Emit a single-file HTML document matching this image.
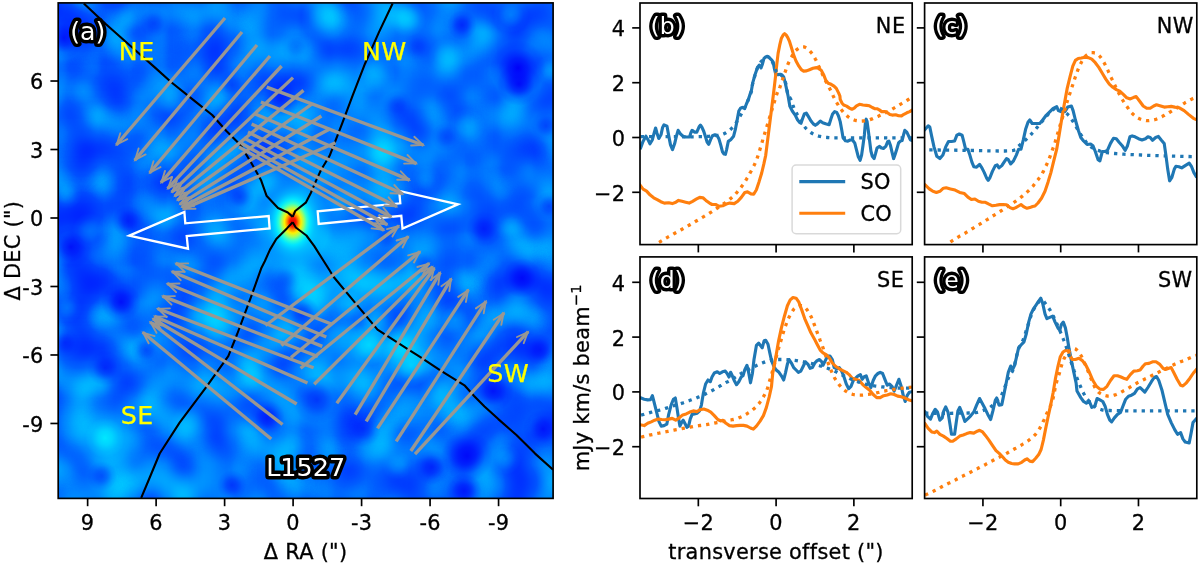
<!DOCTYPE html>
<html><head><meta charset="utf-8"><title>L1527</title>
<style>html,body{margin:0;padding:0;background:#fff}svg{display:block}</style></head>
<body><svg width="1200" height="565" viewBox="0 0 1200 565" font-family="'DejaVu Sans', 'Liberation Sans', sans-serif" font-size="20.83px" letter-spacing="0.3">
<rect width="1200" height="565" fill="#fff"/>
<defs><clipPath id="ca"><rect x="58.2" y="2.9" width="494.90000000000003" height="495.5"/></clipPath></defs>
<g clip-path="url(#ca)">
<rect x="58.2" y="2.9" width="494.90000000000003" height="495.5" fill="#004bff"/>
<defs><radialGradient id="gL"><stop offset="0" stop-color="#00ffff" stop-opacity="1"/><stop offset="0.35" stop-color="#00ffff" stop-opacity="0.72"/><stop offset="0.7" stop-color="#00ffff" stop-opacity="0.22"/><stop offset="1" stop-color="#00ffff" stop-opacity="0"/></radialGradient><radialGradient id="gD"><stop offset="0" stop-color="#0000f8" stop-opacity="1"/><stop offset="0.35" stop-color="#0000fb" stop-opacity="0.72"/><stop offset="0.7" stop-color="#0000ff" stop-opacity="0.22"/><stop offset="1" stop-color="#0000ff" stop-opacity="0"/></radialGradient><radialGradient id="gH"><stop offset="0" stop-color="#e00000"/><stop offset="0.09" stop-color="#ff1400"/><stop offset="0.16" stop-color="#ff8c00"/><stop offset="0.23" stop-color="#fff000"/><stop offset="0.31" stop-color="#a0ff60"/><stop offset="0.39" stop-color="#30ffd0"/><stop offset="0.48" stop-color="#00e8ff" stop-opacity="0.95"/><stop offset="0.62" stop-color="#00c0ff" stop-opacity="0.7"/><stop offset="0.8" stop-color="#00a0ff" stop-opacity="0.35"/><stop offset="1" stop-color="#0090ff" stop-opacity="0"/></radialGradient></defs>
<defs><filter id="fb" x="-20%" y="-20%" width="140%" height="140%"><feGaussianBlur stdDeviation="22"/></filter></defs>
<g filter="url(#fb)">
<rect x="-24.8" y="-80.2" width="83.5" height="83.6" fill="rgb(0,80,255)"/>
<rect x="57.7" y="-80.2" width="83.5" height="83.6" fill="rgb(0,80,255)"/>
<rect x="140.2" y="-80.2" width="83.5" height="83.6" fill="rgb(0,95,255)"/>
<rect x="222.7" y="-80.2" width="83.5" height="83.6" fill="rgb(0,110,255)"/>
<rect x="305.1" y="-80.2" width="83.5" height="83.6" fill="rgb(0,120,255)"/>
<rect x="387.6" y="-80.2" width="83.5" height="83.6" fill="rgb(0,115,255)"/>
<rect x="470.1" y="-80.2" width="83.5" height="83.6" fill="rgb(0,95,255)"/>
<rect x="552.6" y="-80.2" width="83.5" height="83.6" fill="rgb(0,95,255)"/>
<rect x="-24.8" y="2.4" width="83.5" height="83.6" fill="rgb(0,80,255)"/>
<rect x="57.7" y="2.4" width="83.5" height="83.6" fill="rgb(0,80,255)"/>
<rect x="140.2" y="2.4" width="83.5" height="83.6" fill="rgb(0,95,255)"/>
<rect x="222.7" y="2.4" width="83.5" height="83.6" fill="rgb(0,110,255)"/>
<rect x="305.1" y="2.4" width="83.5" height="83.6" fill="rgb(0,120,255)"/>
<rect x="387.6" y="2.4" width="83.5" height="83.6" fill="rgb(0,115,255)"/>
<rect x="470.1" y="2.4" width="83.5" height="83.6" fill="rgb(0,95,255)"/>
<rect x="552.6" y="2.4" width="83.5" height="83.6" fill="rgb(0,95,255)"/>
<rect x="-24.8" y="85.0" width="83.5" height="83.6" fill="rgb(0,95,255)"/>
<rect x="57.7" y="85.0" width="83.5" height="83.6" fill="rgb(0,95,255)"/>
<rect x="140.2" y="85.0" width="83.5" height="83.6" fill="rgb(0,105,255)"/>
<rect x="222.7" y="85.0" width="83.5" height="83.6" fill="rgb(0,90,255)"/>
<rect x="305.1" y="85.0" width="83.5" height="83.6" fill="rgb(0,115,255)"/>
<rect x="387.6" y="85.0" width="83.5" height="83.6" fill="rgb(0,110,255)"/>
<rect x="470.1" y="85.0" width="83.5" height="83.6" fill="rgb(0,95,255)"/>
<rect x="552.6" y="85.0" width="83.5" height="83.6" fill="rgb(0,95,255)"/>
<rect x="-24.8" y="167.6" width="83.5" height="83.6" fill="rgb(0,72,255)"/>
<rect x="57.7" y="167.6" width="83.5" height="83.6" fill="rgb(0,72,255)"/>
<rect x="140.2" y="167.6" width="83.5" height="83.6" fill="rgb(0,100,255)"/>
<rect x="222.7" y="167.6" width="83.5" height="83.6" fill="rgb(0,120,255)"/>
<rect x="305.1" y="167.6" width="83.5" height="83.6" fill="rgb(0,130,255)"/>
<rect x="387.6" y="167.6" width="83.5" height="83.6" fill="rgb(0,105,255)"/>
<rect x="470.1" y="167.6" width="83.5" height="83.6" fill="rgb(0,95,255)"/>
<rect x="552.6" y="167.6" width="83.5" height="83.6" fill="rgb(0,95,255)"/>
<rect x="-24.8" y="250.2" width="83.5" height="83.6" fill="rgb(0,68,255)"/>
<rect x="57.7" y="250.2" width="83.5" height="83.6" fill="rgb(0,68,255)"/>
<rect x="140.2" y="250.2" width="83.5" height="83.6" fill="rgb(0,110,255)"/>
<rect x="222.7" y="250.2" width="83.5" height="83.6" fill="rgb(0,135,255)"/>
<rect x="305.1" y="250.2" width="83.5" height="83.6" fill="rgb(0,145,255)"/>
<rect x="387.6" y="250.2" width="83.5" height="83.6" fill="rgb(0,105,255)"/>
<rect x="470.1" y="250.2" width="83.5" height="83.6" fill="rgb(0,85,255)"/>
<rect x="552.6" y="250.2" width="83.5" height="83.6" fill="rgb(0,85,255)"/>
<rect x="-24.8" y="332.7" width="83.5" height="83.6" fill="rgb(0,100,255)"/>
<rect x="57.7" y="332.7" width="83.5" height="83.6" fill="rgb(0,100,255)"/>
<rect x="140.2" y="332.7" width="83.5" height="83.6" fill="rgb(0,115,255)"/>
<rect x="222.7" y="332.7" width="83.5" height="83.6" fill="rgb(0,115,255)"/>
<rect x="305.1" y="332.7" width="83.5" height="83.6" fill="rgb(0,130,255)"/>
<rect x="387.6" y="332.7" width="83.5" height="83.6" fill="rgb(0,140,255)"/>
<rect x="470.1" y="332.7" width="83.5" height="83.6" fill="rgb(0,85,255)"/>
<rect x="552.6" y="332.7" width="83.5" height="83.6" fill="rgb(0,85,255)"/>
<rect x="-24.8" y="415.3" width="83.5" height="83.6" fill="rgb(0,130,255)"/>
<rect x="57.7" y="415.3" width="83.5" height="83.6" fill="rgb(0,130,255)"/>
<rect x="140.2" y="415.3" width="83.5" height="83.6" fill="rgb(0,125,255)"/>
<rect x="222.7" y="415.3" width="83.5" height="83.6" fill="rgb(0,110,255)"/>
<rect x="305.1" y="415.3" width="83.5" height="83.6" fill="rgb(0,95,255)"/>
<rect x="387.6" y="415.3" width="83.5" height="83.6" fill="rgb(0,90,255)"/>
<rect x="470.1" y="415.3" width="83.5" height="83.6" fill="rgb(0,85,255)"/>
<rect x="552.6" y="415.3" width="83.5" height="83.6" fill="rgb(0,85,255)"/>
<rect x="-24.8" y="497.9" width="83.5" height="83.6" fill="rgb(0,130,255)"/>
<rect x="57.7" y="497.9" width="83.5" height="83.6" fill="rgb(0,130,255)"/>
<rect x="140.2" y="497.9" width="83.5" height="83.6" fill="rgb(0,125,255)"/>
<rect x="222.7" y="497.9" width="83.5" height="83.6" fill="rgb(0,110,255)"/>
<rect x="305.1" y="497.9" width="83.5" height="83.6" fill="rgb(0,95,255)"/>
<rect x="387.6" y="497.9" width="83.5" height="83.6" fill="rgb(0,90,255)"/>
<rect x="470.1" y="497.9" width="83.5" height="83.6" fill="rgb(0,85,255)"/>
<rect x="552.6" y="497.9" width="83.5" height="83.6" fill="rgb(0,85,255)"/>
</g>
<defs><filter id="nL" x="0" y="0" width="100%" height="100%" color-interpolation-filters="sRGB"><feTurbulence type="fractalNoise" baseFrequency="0.03" numOctaves="1" seed="11"/><feColorMatrix type="matrix" values="0 0 0 0 0  0 0 0 0 1  0 0 0 0 1  1.7 0 0 0 -0.80"/></filter><filter id="nD" x="0" y="0" width="100%" height="100%" color-interpolation-filters="sRGB"><feTurbulence type="fractalNoise" baseFrequency="0.03" numOctaves="1" seed="11"/><feColorMatrix type="matrix" values="0 0 0 0 0  0 0 0 0 0  0 0 0 0 1  -1.9 0 0 0 0.90"/></filter></defs>
<rect x="58" y="3" width="496" height="496" filter="url(#nL)"/>
<rect x="58" y="3" width="496" height="496" filter="url(#nD)"/>
<circle cx="294" cy="228" r="57" fill="url(#gL)" opacity="0.45"/>
<circle cx="300" cy="262" r="45" fill="url(#gL)" opacity="0.3"/>
<circle cx="312" cy="160" r="39" fill="url(#gL)" opacity="0.25"/>
<circle cx="64" cy="38" r="21" fill="url(#gD)" opacity="0.8"/>
<circle cx="154" cy="23" r="15" fill="url(#gD)" opacity="0.4"/>
<circle cx="169" cy="99" r="21" fill="url(#gL)" opacity="0.3"/>
<circle cx="84" cy="91" r="18" fill="url(#gL)" opacity="0.25"/>
<circle cx="128" cy="20" r="15" fill="url(#gL)" opacity="0.2"/>
<circle cx="325" cy="18" r="24" fill="url(#gL)" opacity="0.35"/>
<circle cx="375" cy="76" r="21" fill="url(#gL)" opacity="0.3"/>
<circle cx="363" cy="91" r="18" fill="url(#gL)" opacity="0.2"/>
<circle cx="281" cy="99" r="18" fill="url(#gD)" opacity="0.5"/>
<circle cx="296" cy="47" r="15" fill="url(#gD)" opacity="0.3"/>
<circle cx="232" cy="85" r="15" fill="url(#gD)" opacity="0.4"/>
<circle cx="381" cy="155" r="18" fill="url(#gL)" opacity="0.25"/>
<circle cx="303" cy="133" r="18" fill="url(#gL)" opacity="0.3"/>
<circle cx="518" cy="68" r="28" fill="url(#gD)" opacity="1.0"/>
<circle cx="519" cy="84" r="22" fill="url(#gD)" opacity="0.9"/>
<circle cx="462" cy="25" r="15" fill="url(#gD)" opacity="0.6"/>
<circle cx="408" cy="19" r="18" fill="url(#gL)" opacity="0.4"/>
<circle cx="511" cy="15" r="18" fill="url(#gL)" opacity="0.35"/>
<circle cx="446" cy="56" r="18" fill="url(#gL)" opacity="0.3"/>
<circle cx="467" cy="126" r="18" fill="url(#gL)" opacity="0.35"/>
<circle cx="551" cy="70" r="15" fill="url(#gL)" opacity="0.3"/>
<circle cx="546" cy="126" r="15" fill="url(#gD)" opacity="0.5"/>
<circle cx="397" cy="105" r="15" fill="url(#gD)" opacity="0.4"/>
<circle cx="446" cy="137" r="15" fill="url(#gD)" opacity="0.4"/>
<circle cx="417" cy="47" r="14" fill="url(#gD)" opacity="0.3"/>
<circle cx="71" cy="247" r="22" fill="url(#gD)" opacity="0.85"/>
<circle cx="121" cy="302" r="20" fill="url(#gD)" opacity="0.85"/>
<circle cx="128" cy="221" r="16" fill="url(#gD)" opacity="0.6"/>
<circle cx="90" cy="231" r="18" fill="url(#gL)" opacity="0.25"/>
<circle cx="67" cy="194" r="15" fill="url(#gL)" opacity="0.25"/>
<circle cx="67" cy="308" r="15" fill="url(#gL)" opacity="0.25"/>
<circle cx="216" cy="326" r="21" fill="url(#gL)" opacity="0.3"/>
<circle cx="305" cy="291" r="21" fill="url(#gL)" opacity="0.35"/>
<circle cx="349" cy="305" r="21" fill="url(#gL)" opacity="0.5"/>
<circle cx="325" cy="177" r="18" fill="url(#gL)" opacity="0.3"/>
<circle cx="240" cy="197" r="15" fill="url(#gD)" opacity="0.5"/>
<circle cx="286" cy="279" r="15" fill="url(#gD)" opacity="0.3"/>
<circle cx="302" cy="314" r="18" fill="url(#gD)" opacity="0.6"/>
<circle cx="387" cy="238" r="15" fill="url(#gD)" opacity="0.4"/>
<circle cx="484" cy="229" r="18" fill="url(#gD)" opacity="0.6"/>
<circle cx="522" cy="278" r="20" fill="url(#gD)" opacity="0.85"/>
<circle cx="423" cy="264" r="15" fill="url(#gD)" opacity="0.4"/>
<circle cx="549" cy="206" r="15" fill="url(#gD)" opacity="0.5"/>
<circle cx="511" cy="226" r="15" fill="url(#gL)" opacity="0.25"/>
<circle cx="455" cy="320" r="20" fill="url(#gL)" opacity="0.4"/>
<circle cx="426" cy="180" r="15" fill="url(#gL)" opacity="0.25"/>
<circle cx="105" cy="438" r="20" fill="url(#gL)" opacity="0.75"/>
<circle cx="105" cy="438" r="42" fill="url(#gL)" opacity="0.3"/>
<circle cx="105" cy="368" r="18" fill="url(#gD)" opacity="0.6"/>
<circle cx="65" cy="343" r="15" fill="url(#gD)" opacity="0.5"/>
<circle cx="146" cy="350" r="15" fill="url(#gD)" opacity="0.5"/>
<circle cx="102" cy="476" r="15" fill="url(#gD)" opacity="0.4"/>
<circle cx="190" cy="421" r="18" fill="url(#gL)" opacity="0.3"/>
<circle cx="317" cy="400" r="24" fill="url(#gD)" opacity="0.6"/>
<circle cx="267" cy="418" r="18" fill="url(#gD)" opacity="0.6"/>
<circle cx="363" cy="429" r="18" fill="url(#gD)" opacity="0.5"/>
<circle cx="232" cy="485" r="15" fill="url(#gD)" opacity="0.5"/>
<circle cx="293" cy="447" r="20" fill="url(#gL)" opacity="0.3"/>
<circle cx="369" cy="345" r="21" fill="url(#gL)" opacity="0.6"/>
<circle cx="252" cy="377" r="18" fill="url(#gL)" opacity="0.3"/>
<circle cx="411" cy="365" r="22" fill="url(#gL)" opacity="0.6"/>
<circle cx="440" cy="391" r="21" fill="url(#gL)" opacity="0.4"/>
<circle cx="375" cy="320" r="21" fill="url(#gL)" opacity="0.5"/>
<circle cx="400" cy="345" r="21" fill="url(#gL)" opacity="0.5"/>
<circle cx="493" cy="391" r="21" fill="url(#gD)" opacity="0.8"/>
<circle cx="467" cy="456" r="26" fill="url(#gD)" opacity="0.85"/>
<circle cx="543" cy="429" r="20" fill="url(#gD)" opacity="0.8"/>
<circle cx="432" cy="467" r="18" fill="url(#gD)" opacity="0.6"/>
<circle cx="540" cy="350" r="16" fill="url(#gD)" opacity="0.6"/>
<circle cx="464" cy="491" r="18" fill="url(#gD)" opacity="0.7"/>
<circle cx="505" cy="459" r="16" fill="url(#gL)" opacity="0.3"/>
<circle cx="397" cy="465" r="15" fill="url(#gL)" opacity="0.25"/>
<ellipse cx="292.8" cy="222" rx="36" ry="48" fill="url(#gH)"/>
<polyline points="83.8,3.5 106,24.3 130.8,46.2 155.6,68.1 171,82 194.5,100.9 212.2,115 226.4,131 240.5,145.1 251.2,162.8 256.5,172 261.2,180.6 266.5,195.7 278,208 287.8,212.5 292.7,216.9" fill="none" stroke="#000" stroke-width="2.1" stroke-linejoin="round"/>
<polyline points="392.6,3.5 379.1,31.9 365,63.7 352.6,95.6 342,123.9 329.6,155.8 321,170 316.1,180.6 310.8,193 305.8,202.7 295.2,211 292.7,216.9" fill="none" stroke="#000" stroke-width="2.1" stroke-linejoin="round"/>
<polyline points="141.2,497.8 148.7,480 159.7,453.5 179.6,422.6 206.2,387.2 228.3,356.2 237.2,334 250.4,298.7 261.5,267.7 264.8,261.2 270,249.6 276.3,239 286.9,228.4 292.7,222.2" fill="none" stroke="#000" stroke-width="2.1" stroke-linejoin="round"/>
<polyline points="553.1,469.7 535.1,453.6 516.7,435.2 498.3,419.1 484.5,406.4 474.1,396 464.9,385.7 440.7,370.7 420,356.9 408.5,349.6 377.5,329.6 355.4,303.1 333.3,276.5 329.4,270 323.2,260.3 314.3,246.1 306.4,235.5 295.8,227.5 292.7,222.2" fill="none" stroke="#000" stroke-width="2.1" stroke-linejoin="round"/>
<polygon points="129.3,235.6 184.4,212 185.3,223.3 268.7,216 269.6,228.4 186.7,236 188,248.7" fill="none" stroke="#fff" stroke-width="2.3" stroke-linejoin="miter"/>
<polygon points="317.7,211.3 318.7,224 401.3,215.8 402.5,228.5 458,204.4 399.2,190.9 400.3,203.3" fill="none" stroke="#fff" stroke-width="2.3" stroke-linejoin="miter"/>
<path d="M225.0,18.0L116.3,145.0" fill="none" stroke="#9a9792" stroke-width="3.35"/><path d="M127.3,139.2L116.8,144.4L120.3,133.2" fill="none" stroke="#9a9792" stroke-width="1.9" stroke-linejoin="miter" stroke-linecap="round"/>
<path d="M242.0,32.0L134.7,160.4" fill="none" stroke="#9a9792" stroke-width="3.35"/><path d="M145.6,154.4L135.2,159.8L138.6,148.5" fill="none" stroke="#9a9792" stroke-width="1.9" stroke-linejoin="miter" stroke-linecap="round"/>
<path d="M257.0,45.0L149.6,173.0" fill="none" stroke="#9a9792" stroke-width="3.35"/><path d="M160.5,167.1L150.1,172.4L153.5,161.2" fill="none" stroke="#9a9792" stroke-width="1.9" stroke-linejoin="miter" stroke-linecap="round"/>
<path d="M270.0,56.0L161.0,182.7" fill="none" stroke="#9a9792" stroke-width="3.35"/><path d="M172.0,176.9L161.5,182.1L165.0,170.9" fill="none" stroke="#9a9792" stroke-width="1.9" stroke-linejoin="miter" stroke-linecap="round"/>
<path d="M281.6,66.0L167.6,188.7" fill="none" stroke="#9a9792" stroke-width="3.35"/><path d="M178.8,183.3L168.1,188.1L172.1,177.1" fill="none" stroke="#9a9792" stroke-width="1.9" stroke-linejoin="miter" stroke-linecap="round"/>
<path d="M293.0,77.6L171.6,192.2" fill="none" stroke="#9a9792" stroke-width="3.35"/><path d="M183.2,187.6L172.2,191.7L176.9,180.9" fill="none" stroke="#9a9792" stroke-width="1.9" stroke-linejoin="miter" stroke-linecap="round"/>
<path d="M303.5,90.4L174.6,196.2" fill="none" stroke="#9a9792" stroke-width="3.35"/><path d="M186.5,192.4L175.2,195.7L180.7,185.3" fill="none" stroke="#9a9792" stroke-width="1.9" stroke-linejoin="miter" stroke-linecap="round"/>
<path d="M312.0,104.0L177.3,200.3" fill="none" stroke="#9a9792" stroke-width="3.35"/><path d="M189.4,197.3L178.0,199.8L184.1,189.8" fill="none" stroke="#9a9792" stroke-width="1.9" stroke-linejoin="miter" stroke-linecap="round"/>
<path d="M321.4,116.0L179.8,204.3" fill="none" stroke="#9a9792" stroke-width="3.35"/><path d="M192.1,202.1L180.5,203.9L187.2,194.2" fill="none" stroke="#9a9792" stroke-width="1.9" stroke-linejoin="miter" stroke-linecap="round"/>
<path d="M329.3,129.2L181.7,207.3" fill="none" stroke="#9a9792" stroke-width="3.35"/><path d="M194.1,206.0L182.4,206.9L189.8,197.8" fill="none" stroke="#9a9792" stroke-width="1.9" stroke-linejoin="miter" stroke-linecap="round"/>
<path d="M335.6,142.8L183.1,209.1" fill="none" stroke="#9a9792" stroke-width="3.35"/><path d="M195.5,208.7L183.8,208.8L191.9,200.3" fill="none" stroke="#9a9792" stroke-width="1.9" stroke-linejoin="miter" stroke-linecap="round"/>
<path d="M266.7,87.1L423.6,145.2" fill="none" stroke="#9a9792" stroke-width="3.35"/><path d="M414.3,136.8L422.9,144.9L411.1,145.5" fill="none" stroke="#9a9792" stroke-width="1.9" stroke-linejoin="miter" stroke-linecap="round"/>
<path d="M260.9,102.0L416.6,163.6" fill="none" stroke="#9a9792" stroke-width="3.35"/><path d="M407.5,155.0L415.9,163.3L404.1,163.6" fill="none" stroke="#9a9792" stroke-width="1.9" stroke-linejoin="miter" stroke-linecap="round"/>
<path d="M255.3,114.0L409.6,180.1" fill="none" stroke="#9a9792" stroke-width="3.35"/><path d="M400.8,171.3L408.9,179.8L397.2,179.8" fill="none" stroke="#9a9792" stroke-width="1.9" stroke-linejoin="miter" stroke-linecap="round"/>
<path d="M251.6,124.0L402.9,194.0" fill="none" stroke="#9a9792" stroke-width="3.35"/><path d="M394.3,185.0L402.2,193.7L390.5,193.3" fill="none" stroke="#9a9792" stroke-width="1.9" stroke-linejoin="miter" stroke-linecap="round"/>
<path d="M248.0,132.0L396.9,206.6" fill="none" stroke="#9a9792" stroke-width="3.35"/><path d="M388.6,197.3L396.2,206.3L384.5,205.5" fill="none" stroke="#9a9792" stroke-width="1.9" stroke-linejoin="miter" stroke-linecap="round"/>
<path d="M244.0,138.0L391.4,217.1" fill="none" stroke="#9a9792" stroke-width="3.35"/><path d="M383.4,207.6L390.7,216.7L379.1,215.7" fill="none" stroke="#9a9792" stroke-width="1.9" stroke-linejoin="miter" stroke-linecap="round"/>
<path d="M241.3,143.3L387.3,224.8" fill="none" stroke="#9a9792" stroke-width="3.35"/><path d="M379.4,215.1L386.6,224.4L374.9,223.2" fill="none" stroke="#9a9792" stroke-width="1.9" stroke-linejoin="miter" stroke-linecap="round"/>
<path d="M239.0,147.0L384.0,230.2" fill="none" stroke="#9a9792" stroke-width="3.35"/><path d="M376.2,220.4L383.3,229.8L371.6,228.4" fill="none" stroke="#9a9792" stroke-width="1.9" stroke-linejoin="miter" stroke-linecap="round"/>
<path d="M332.0,324.3L175.7,263.4" fill="none" stroke="#9a9792" stroke-width="3.35"/><path d="M184.8,271.9L176.4,263.7L188.2,263.4" fill="none" stroke="#9a9792" stroke-width="1.9" stroke-linejoin="miter" stroke-linecap="round"/>
<path d="M326.3,337.0L171.9,271.5" fill="none" stroke="#9a9792" stroke-width="3.35"/><path d="M180.7,280.2L172.6,271.8L184.3,271.8" fill="none" stroke="#9a9792" stroke-width="1.9" stroke-linejoin="miter" stroke-linecap="round"/>
<path d="M322.3,346.4L167.1,283.5" fill="none" stroke="#9a9792" stroke-width="3.35"/><path d="M176.1,292.1L167.8,283.8L179.5,283.5" fill="none" stroke="#9a9792" stroke-width="1.9" stroke-linejoin="miter" stroke-linecap="round"/>
<path d="M317.8,356.5L162.4,296.1" fill="none" stroke="#9a9792" stroke-width="3.35"/><path d="M171.5,304.6L163.1,296.4L174.9,296.1" fill="none" stroke="#9a9792" stroke-width="1.9" stroke-linejoin="miter" stroke-linecap="round"/>
<path d="M313.6,367.8L157.4,308.5" fill="none" stroke="#9a9792" stroke-width="3.35"/><path d="M166.6,317.0L158.1,308.8L169.9,308.4" fill="none" stroke="#9a9792" stroke-width="1.9" stroke-linejoin="miter" stroke-linecap="round"/>
<path d="M307.5,383.0L154.4,316.2" fill="none" stroke="#9a9792" stroke-width="3.35"/><path d="M163.2,325.0L155.1,316.5L166.8,316.6" fill="none" stroke="#9a9792" stroke-width="1.9" stroke-linejoin="miter" stroke-linecap="round"/>
<path d="M296.7,404.0L152.8,318.7" fill="none" stroke="#9a9792" stroke-width="3.35"/><path d="M160.5,328.6L153.5,319.1L165.2,320.7" fill="none" stroke="#9a9792" stroke-width="1.9" stroke-linejoin="miter" stroke-linecap="round"/>
<path d="M282.6,424.5L150.1,322.0" fill="none" stroke="#9a9792" stroke-width="3.35"/><path d="M156.5,332.8L150.7,322.5L162.1,325.5" fill="none" stroke="#9a9792" stroke-width="1.9" stroke-linejoin="miter" stroke-linecap="round"/>
<path d="M271.2,439.0L142.7,332.3" fill="none" stroke="#9a9792" stroke-width="3.35"/><path d="M148.7,343.2L143.3,332.8L154.6,336.1" fill="none" stroke="#9a9792" stroke-width="1.9" stroke-linejoin="miter" stroke-linecap="round"/>
<path d="M265.5,325.5L399.0,225.8" fill="none" stroke="#9a9792" stroke-width="3.35"/><path d="M386.9,229.1L398.3,226.3L392.4,236.5" fill="none" stroke="#9a9792" stroke-width="1.9" stroke-linejoin="miter" stroke-linecap="round"/>
<path d="M281.4,345.4L408.4,236.5" fill="none" stroke="#9a9792" stroke-width="3.35"/><path d="M396.6,240.5L407.8,237.0L402.6,247.5" fill="none" stroke="#9a9792" stroke-width="1.9" stroke-linejoin="miter" stroke-linecap="round"/>
<path d="M291.0,357.5L420.1,251.6" fill="none" stroke="#9a9792" stroke-width="3.35"/><path d="M408.2,255.4L419.5,252.1L414.0,262.5" fill="none" stroke="#9a9792" stroke-width="1.9" stroke-linejoin="miter" stroke-linecap="round"/>
<path d="M300.6,368.3L429.2,263.3" fill="none" stroke="#9a9792" stroke-width="3.35"/><path d="M417.3,267.0L428.6,263.8L423.1,274.2" fill="none" stroke="#9a9792" stroke-width="1.9" stroke-linejoin="miter" stroke-linecap="round"/>
<path d="M314.2,384.2L432.7,266.6" fill="none" stroke="#9a9792" stroke-width="3.35"/><path d="M421.2,271.5L432.1,267.1L427.7,278.0" fill="none" stroke="#9a9792" stroke-width="1.9" stroke-linejoin="miter" stroke-linecap="round"/>
<path d="M336.8,403.3L434.4,267.9" fill="none" stroke="#9a9792" stroke-width="3.35"/><path d="M423.9,274.6L433.9,268.6L431.3,280.0" fill="none" stroke="#9a9792" stroke-width="1.9" stroke-linejoin="miter" stroke-linecap="round"/>
<path d="M355.2,414.7L440.3,272.3" fill="none" stroke="#9a9792" stroke-width="3.35"/><path d="M430.4,279.9L439.9,273.0L438.3,284.7" fill="none" stroke="#9a9792" stroke-width="1.9" stroke-linejoin="miter" stroke-linecap="round"/>
<path d="M366.2,421.3L451.3,278.7" fill="none" stroke="#9a9792" stroke-width="3.35"/><path d="M441.4,286.3L450.9,279.4L449.3,291.1" fill="none" stroke="#9a9792" stroke-width="1.9" stroke-linejoin="miter" stroke-linecap="round"/>
<path d="M377.5,428.3L468.4,289.7" fill="none" stroke="#9a9792" stroke-width="3.35"/><path d="M458.2,296.9L467.9,290.4L465.9,302.0" fill="none" stroke="#9a9792" stroke-width="1.9" stroke-linejoin="miter" stroke-linecap="round"/>
<path d="M396.2,441.3L486.1,301.1" fill="none" stroke="#9a9792" stroke-width="3.35"/><path d="M475.9,308.4L485.7,301.8L483.7,313.4" fill="none" stroke="#9a9792" stroke-width="1.9" stroke-linejoin="miter" stroke-linecap="round"/>
<path d="M410.8,451.0L504.0,312.7" fill="none" stroke="#9a9792" stroke-width="3.35"/><path d="M493.7,319.8L503.5,313.4L501.3,324.9" fill="none" stroke="#9a9792" stroke-width="1.9" stroke-linejoin="miter" stroke-linecap="round"/>
<path d="M415.0,454.2L528.2,331.6" fill="none" stroke="#9a9792" stroke-width="3.35"/><path d="M517.0,337.0L527.7,332.2L523.7,343.2" fill="none" stroke="#9a9792" stroke-width="1.9" stroke-linejoin="miter" stroke-linecap="round"/>
<text x="118.8" y="60.2" fill="#ffff00" stroke="#ffff00" stroke-width="0.25" font-size="25.3px" letter-spacing="0.5">NE</text>
<text x="361.9" y="60.2" fill="#ffff00" stroke="#ffff00" stroke-width="0.25" font-size="25.3px" letter-spacing="0.5">NW</text>
<text x="120.8" y="423.8" fill="#ffff00" stroke="#ffff00" stroke-width="0.25" font-size="25.3px" letter-spacing="0.5">SE</text>
<text x="487.2" y="381.6" fill="#ffff00" stroke="#ffff00" stroke-width="0.25" font-size="25.3px" letter-spacing="0.5">SW</text>
</g>
<rect x="58.2" y="2.9" width="494.90000000000003" height="495.5" fill="none" stroke="#000" stroke-width="1.67"/>
<line x1="87.63" y1="498.4" x2="87.63" y2="506.2" stroke="#000" stroke-width="1.67"/>
<text x="87.63" y="530.4" text-anchor="middle" stroke="#000" stroke-width="0.3">9</text>
<line x1="156.12" y1="498.4" x2="156.12" y2="506.2" stroke="#000" stroke-width="1.67"/>
<text x="156.12" y="530.4" text-anchor="middle" stroke="#000" stroke-width="0.3">6</text>
<line x1="58.2" y1="81.02" x2="50.400000000000006" y2="81.02" stroke="#000" stroke-width="1.67"/>
<text x="43.60" y="89.12" text-anchor="end" stroke="#000" stroke-width="0.3">6</text>
<line x1="224.61" y1="498.4" x2="224.61" y2="506.2" stroke="#000" stroke-width="1.67"/>
<text x="224.61" y="530.4" text-anchor="middle" stroke="#000" stroke-width="0.3">3</text>
<line x1="58.2" y1="149.51" x2="50.400000000000006" y2="149.51" stroke="#000" stroke-width="1.67"/>
<text x="43.60" y="157.61" text-anchor="end" stroke="#000" stroke-width="0.3">3</text>
<line x1="293.10" y1="498.4" x2="293.10" y2="506.2" stroke="#000" stroke-width="1.67"/>
<text x="293.10" y="530.4" text-anchor="middle" stroke="#000" stroke-width="0.3">0</text>
<line x1="58.2" y1="218.00" x2="50.400000000000006" y2="218.00" stroke="#000" stroke-width="1.67"/>
<text x="43.60" y="226.10" text-anchor="end" stroke="#000" stroke-width="0.3">0</text>
<line x1="361.59" y1="498.4" x2="361.59" y2="506.2" stroke="#000" stroke-width="1.67"/>
<text x="361.59" y="530.4" text-anchor="middle" stroke="#000" stroke-width="0.3">-3</text>
<line x1="58.2" y1="286.49" x2="50.400000000000006" y2="286.49" stroke="#000" stroke-width="1.67"/>
<text x="43.60" y="294.59" text-anchor="end" stroke="#000" stroke-width="0.3">-3</text>
<line x1="430.08" y1="498.4" x2="430.08" y2="506.2" stroke="#000" stroke-width="1.67"/>
<text x="430.08" y="530.4" text-anchor="middle" stroke="#000" stroke-width="0.3">-6</text>
<line x1="58.2" y1="354.98" x2="50.400000000000006" y2="354.98" stroke="#000" stroke-width="1.67"/>
<text x="43.60" y="363.08" text-anchor="end" stroke="#000" stroke-width="0.3">-6</text>
<line x1="498.57" y1="498.4" x2="498.57" y2="506.2" stroke="#000" stroke-width="1.67"/>
<text x="498.57" y="530.4" text-anchor="middle" stroke="#000" stroke-width="0.3">-9</text>
<line x1="58.2" y1="423.47" x2="50.400000000000006" y2="423.47" stroke="#000" stroke-width="1.67"/>
<text x="43.60" y="431.57" text-anchor="end" stroke="#000" stroke-width="0.3">-9</text>
<text x="305.6" y="559.0" text-anchor="middle" stroke="#000" stroke-width="0.3">Δ RA (&quot;)</text>
<text transform="translate(19.7,250.6) rotate(-90)" text-anchor="middle" stroke="#000" stroke-width="0.3">Δ DEC (&quot;)</text>
<text x="70.3" y="39.6"  text-anchor="start" font-size="25.2px" letter-spacing="0" fill="#fff" stroke="#000" stroke-width="7.0" stroke-linejoin="round" paint-order="stroke fill">(a)</text>
<text x="305.7" y="476.0"  text-anchor="middle" font-size="25.5px" letter-spacing="0" fill="#fff" stroke="#000" stroke-width="7.0" stroke-linejoin="round" paint-order="stroke fill">L1527</text>
<defs><clipPath id="c0"><rect x="640.0" y="3.0" width="272.2" height="241.6"/></clipPath></defs>
<g clip-path="url(#c0)">
<polyline points="640.7,147.8 643.0,141.4 645.9,136.2 648.3,140.3 650.0,143.8 652.4,139.7 654.1,133.2 655.6,128.0 657.0,133.2 658.8,138.5 661.1,134.4 662.6,127.4 664.0,124.8 667.0,126.2 668.7,135.6 670.5,144.9 672.5,149.6 674.6,143.8 676.3,136.7 678.1,130.3 680.4,133.8 683.3,136.5 686.3,137.0 689.5,137.0 690.9,132.7 692.1,130.3 694.4,132.1 696.8,132.1 699.1,126.8 700.5,125.1 702.0,127.4 703.8,131.5 705.5,136.7 707.1,142.0 708.7,144.3 710.8,139.1 712.5,135.8 714.9,134.8 717.2,135.8 719.0,139.1 720.7,144.9 722.5,151.9 723.9,154.0 725.4,154.3 726.6,149.6 728.3,141.4 730.7,139.7 733.6,136.2 735.3,129.7 737.1,120.4 738.8,111.0 740.6,108.1 742.3,107.3 744.7,108.5 746.4,104.0 748.2,99.9 749.9,94.7 751.5,90.0 752.8,82.6 755.1,74.4 757.5,67.4 759.2,65.1 761.0,68.0 762.5,63.9 763.9,58.6 765.6,56.9 767.4,56.3 769.1,57.5 771.5,59.8 773.2,62.1 774.4,68.6 775.8,74.4 777.9,74.6 780.3,74.2 782.0,75.0 783.8,77.3 785.2,82.6 786.7,89.6 788.1,96.0 789.9,106.4 792.3,111.0 795.2,115.1 797.5,119.8 799.3,122.1 801.0,123.3 802.8,118.0 804.3,114.0 806.3,113.1 808.6,116.9 811.0,121.0 813.3,123.9 815.3,125.3 817.4,123.9 820.3,121.0 822.7,122.7 825.6,123.7 829.1,124.7 830.8,119.2 832.6,114.0 834.7,111.6 836.7,112.4 838.4,115.7 840.2,121.6 841.7,129.7 843.1,137.9 845.4,140.8 847.8,141.2 850.1,140.0 852.5,140.0 854.8,143.2 856.5,149.9 858.3,156.9 860.1,160.4 861.6,155.1 863.0,145.2 864.4,134.7 865.5,121.6 866.2,119.2 867.1,121.6 868.2,129.7 869.4,139.1 870.9,151.0 872.3,156.3 874.1,158.6 875.6,153.4 877.0,148.1 879.3,146.4 881.7,148.1 883.4,148.5 885.8,146.4 887.7,141.7 888.9,141.1 890.4,145.2 892.0,152.2 893.6,158.6 895.1,154.5 896.9,148.7 898.6,142.9 900.4,141.1 902.1,140.5 903.6,134.7 904.8,130.3 906.8,132.1 908.5,135.6 910.3,139.7 912.1,140.5" fill="none" stroke="#1f77b4" stroke-width="3.125" stroke-linejoin="round" stroke-linecap="square"/>
<polyline points="639.9,184.9 643.1,189.1 646.6,191.1 650.2,195.1 653.7,197.8 657.2,199.6 660.8,201.7 664.3,203.1 668.7,202.7 672.3,203.6 675.8,202.2 678.5,200.4 682.0,201.3 685.6,202.2 689.1,203.1 692.6,201.3 696.2,199.2 699.7,197.4 702.9,197.8 705.9,200.4 709.5,203.1 712.1,204.5 715.6,204.5 719.2,206.3 722.7,205.8 726.3,204.0 729.8,203.1 734.2,203.6 737.8,201.3 741.3,197.4 744.8,192.5 747.5,191.9 751.0,193.9 753.7,194.2 756.4,189.8 759.0,181.9 761.7,173.0 763.8,164.2 765.7,155.3 773.2,96.0 774.4,86.1 775.6,75.6 776.7,65.1 778.1,53.4 779.7,45.2 781.4,38.2 783.2,34.9 784.6,33.7 786.1,34.9 787.8,37.6 789.6,41.7 791.4,47.5 793.7,55.1 796.0,61.0 798.9,66.2 801.3,69.7 803.6,71.1 806.5,70.9 809.5,69.7 813.0,68.3 816.5,67.6 818.8,68.6 821.2,70.3 823.5,74.4 825.8,80.3 828.2,83.2 831.1,84.3 834.0,86.1 836.3,88.4 838.7,93.1 839.9,96.0 840.2,99.3 841.9,102.9 843.7,105.0 846.6,106.1 849.5,108.1 851.9,109.3 854.2,108.1 856.5,105.8 859.5,104.3 863.0,105.0 866.5,105.4 869.4,105.8 872.3,107.5 874.7,108.7 877.0,108.7 879.3,109.9 881.7,111.6 885.2,111.6 887.5,112.8 889.9,114.5 892.2,115.1 895.7,114.8 898.6,115.7 901.5,115.9 903.9,114.3 906.8,112.8 909.7,111.6 912.1,110.1" fill="none" stroke="#ff7f0e" stroke-width="3.125" stroke-linejoin="round" stroke-linecap="square"/>
<polyline points="640.7,136.7 644.0,136.7 648.6,136.7 654.1,136.7 660.0,136.7 665.8,136.7 671.1,136.7 676.1,136.7 681.4,136.8 686.5,136.8 691.4,136.8 695.7,136.8 699.1,136.7 701.5,136.7 702.9,136.7 703.8,136.7 704.4,136.7 705.1,136.6 706.1,136.5 707.6,136.4 709.1,136.3 710.8,136.1 712.4,135.9 714.0,135.8 715.5,135.6 716.8,135.4 718.0,135.3 719.1,135.2 720.2,135.0 721.3,134.8 722.5,134.4 723.7,133.9 724.9,133.3 726.1,132.7 727.2,132.0 728.4,131.2 729.5,130.3 730.5,129.4 731.6,128.4 732.6,127.3 733.5,126.2 734.4,125.1 735.3,123.9 736.2,122.7 737.0,121.4 737.8,120.2 738.5,118.9 739.3,117.6 740.0,116.3 740.7,115.0 741.4,113.8 742.1,112.6 742.8,111.3 743.4,110.0 744.1,108.7 744.8,107.3 745.5,105.9 746.2,104.4 746.9,102.9 747.6,101.4 748.2,99.9 748.8,98.5 749.4,97.0 750.0,95.5 750.5,94.0 751.0,92.6 751.5,91.2 751.8,89.8 752.0,88.5 752.2,87.1 752.3,85.8 752.5,84.5 752.8,83.2 753.1,81.8 753.5,80.4 753.9,79.0 754.3,77.6 754.7,76.3 755.1,75.0 755.5,73.7 755.9,72.5 756.3,71.3 756.6,70.1 757.0,69.0 757.5,68.0 757.9,67.0 758.4,66.1 758.9,65.2 759.3,64.3 759.9,63.5 760.4,62.7 760.9,61.9 761.5,61.2 762.1,60.5 762.7,59.8 763.3,59.2 763.9,58.6 764.5,58.1 765.1,57.6 765.6,57.2 766.2,56.9 766.8,56.7 767.4,56.6 768.0,56.8 768.6,57.0 769.2,57.4 769.8,57.9 770.4,58.5 770.9,59.2 771.4,60.0 771.9,60.9 772.4,61.9 772.9,62.9 773.3,64.0 773.8,65.1 774.3,66.2 774.8,67.5 775.2,68.8 775.7,70.0 776.2,71.2 776.7,72.1 777.3,72.7 777.9,73.2 778.5,73.5 779.1,73.7 779.7,74.0 780.3,74.4 780.8,74.9 781.5,75.4 782.1,75.9 782.7,76.4 783.2,77.1 783.8,77.9 784.2,78.8 784.6,79.9 785.0,81.0 785.4,82.2 785.7,83.5 786.1,84.9 786.4,86.6 786.8,88.4 787.1,90.4 787.4,92.3 787.7,94.1 788.1,95.4 788.5,96.4 788.8,96.9 789.2,97.2 789.6,97.5 790.1,98.0 790.5,98.8 791.0,99.9 791.5,101.3 792.0,102.8 792.6,104.3 793.1,105.9 793.7,107.3 794.2,108.6 794.8,109.9 795.4,111.1 796.1,112.4 796.7,113.6 797.3,114.8 797.9,115.9 798.5,117.1 799.0,118.2 799.6,119.3 800.3,120.4 801.0,121.6 801.8,122.8 802.7,124.1 803.6,125.5 804.6,126.8 805.6,128.0 806.6,129.1 807.7,130.2 808.8,131.1 810.0,132.0 811.2,132.8 812.4,133.5 813.7,134.2 814.9,134.8 816.2,135.3 817.5,135.7 818.8,136.1 820.1,136.4 821.5,136.7 822.9,137.0 824.4,137.2 825.8,137.4 827.3,137.5 828.8,137.6 830.3,137.7 831.5,137.8 832.5,137.8 833.4,137.9 834.6,137.9 836.2,137.9 838.4,137.9 841.4,137.9 845.1,137.9 849.2,137.9 853.5,137.9 857.7,137.9 861.8,137.9 865.7,137.9 869.5,137.9 873.3,137.9 877.1,137.9 881.1,137.9 885.2,137.9 889.8,137.9 894.9,137.9 900.1,137.9 905.0,137.9 909.1,137.9 912.1,137.9" fill="none" stroke="#1f77b4" stroke-width="3.3" stroke-linejoin="round" stroke-linecap="butt" stroke-dasharray="3.3 4.98"/>
<polyline points="659.0,242.4 659.9,241.9 661.1,241.1 662.5,240.3 664.1,239.3 665.6,238.4 667.0,237.6 668.2,236.9 669.5,236.2 670.7,235.5 671.9,234.9 673.2,234.2 674.4,233.5 675.7,232.8 677.0,232.1 678.2,231.4 679.5,230.7 680.8,230.0 682.0,229.3 683.2,228.6 684.4,227.9 685.6,227.3 686.7,226.6 687.9,225.9 689.1,225.2 690.3,224.5 691.6,223.8 692.9,223.0 694.2,222.3 695.4,221.5 696.7,220.8 698.0,220.1 699.2,219.3 700.4,218.6 701.7,217.8 702.9,217.1 704.1,216.4 705.4,215.6 706.6,214.9 707.9,214.2 709.1,213.5 710.3,212.7 711.6,211.9 712.8,211.1 714.0,210.3 715.3,209.5 716.5,208.6 717.7,207.8 718.8,207.0 720.0,206.2 721.1,205.5 722.1,204.8 723.2,204.1 724.3,203.3 725.4,202.6 726.5,201.7 727.6,200.9 728.8,200.0 729.9,199.1 731.0,198.2 732.1,197.3 733.1,196.3 734.1,195.3 735.1,194.4 736.1,193.3 737.0,192.3 737.9,191.2 738.9,190.1 739.8,189.0 740.7,187.8 741.6,186.6 742.4,185.4 743.3,184.2 744.1,183.0 744.9,181.8 745.6,180.6 746.4,179.3 747.1,178.1 747.9,176.9 748.6,175.7 749.3,174.4 749.9,173.2 750.6,172.0 751.3,170.7 751.9,169.5 752.6,168.2 753.2,167.0 753.9,165.7 754.5,164.5 755.1,163.2 755.6,161.9 756.0,161.1 756.2,161.0 756.3,160.8 756.6,160.0 757.3,157.8 758.7,153.5 760.9,146.2 763.9,136.1 767.4,124.7 770.9,113.3 773.9,103.3 776.2,96.0 777.5,92.0 778.3,90.0 778.7,89.4 778.8,89.6 779.0,89.7 779.3,89.0 779.8,87.7 780.2,86.4 780.7,85.0 781.1,83.6 781.5,82.2 782.0,80.8 782.5,79.5 783.0,78.1 783.5,76.7 783.9,75.4 784.4,74.0 784.9,72.7 785.4,71.3 785.9,69.9 786.3,68.5 786.8,67.2 787.3,65.8 787.8,64.5 788.4,63.2 789.0,61.9 789.6,60.6 790.2,59.3 790.9,58.1 791.6,56.9 792.3,55.6 793.0,54.3 793.7,53.1 794.5,51.9 795.4,50.8 796.4,49.9 797.5,49.1 798.7,48.3 800.0,47.7 801.3,47.2 802.6,46.9 803.9,46.9 805.1,47.3 806.2,47.9 807.4,48.8 808.6,49.8 809.6,50.8 810.6,51.9 811.5,52.9 812.4,54.0 813.2,55.2 813.9,56.5 814.6,57.7 815.3,59.0 816.0,60.2 816.6,61.4 817.1,62.6 817.7,63.8 818.3,65.2 819.0,66.8 819.9,68.6 820.8,70.6 821.7,72.7 822.7,74.9 823.7,77.1 824.7,79.1 825.6,81.0 826.7,83.0 827.7,84.9 828.7,86.8 829.7,88.6 830.5,90.2 831.2,91.6 831.8,92.9 832.4,94.1 832.9,95.3 833.4,96.4 834.0,97.6 834.6,98.8 835.3,100.0 835.9,101.2 836.6,102.4 837.3,103.6 838.1,104.8 838.8,106.0 839.6,107.2 840.4,108.4 841.3,109.6 842.2,110.7 843.1,111.9 844.1,112.9 845.1,114.0 846.2,115.1 847.3,116.1 848.4,117.0 849.5,117.8 850.7,118.5 851.9,119.1 853.2,119.6 854.5,120.1 855.8,120.5 857.1,120.7 858.5,120.9 860.0,121.1 861.5,121.1 863.0,121.0 864.5,120.9 865.9,120.7 867.3,120.5 868.7,120.1 870.1,119.6 871.4,119.1 872.8,118.6 874.1,118.0 875.4,117.5 876.7,116.9 877.9,116.4 879.2,115.8 880.4,115.1 881.7,114.5 882.9,113.9 884.2,113.3 885.5,112.7 886.7,112.1 888.0,111.5 889.3,110.8 890.5,110.1 891.8,109.4 893.1,108.6 894.3,107.9 895.6,107.1 896.9,106.4 898.1,105.6 899.4,104.9 900.7,104.1 902.0,103.4 903.2,102.7 904.5,101.9 905.7,101.1 907.1,100.3 908.4,99.5 909.7,98.7 910.7,98.1 911.5,97.6" fill="none" stroke="#ff7f0e" stroke-width="3.3" stroke-linejoin="round" stroke-linecap="butt" stroke-dasharray="3.3 4.98"/>
</g>
<rect x="792.1" y="165.1" width="108.6" height="68.6" rx="4" ry="4" fill="#fff" fill-opacity="0.8" stroke="#ccc" stroke-opacity="0.75" stroke-width="1.5"/>
<line x1="799.3" y1="181.6" x2="845.2" y2="181.6" stroke="#1f77b4" stroke-width="3.125"/>
<line x1="799.3" y1="213.3" x2="845.2" y2="213.3" stroke="#ff7f0e" stroke-width="3.125"/>
<text x="860.4" y="189.3" stroke="#000" stroke-width="0.3">SO</text>
<text x="860.4" y="220.6" stroke="#000" stroke-width="0.3">CO</text>
<rect x="640.0" y="3.0" width="272.2" height="241.6" fill="none" stroke="#000" stroke-width="1.67"/>
<line x1="698.33" y1="244.6" x2="698.33" y2="252.4" stroke="#000" stroke-width="1.67"/>
<line x1="776.10" y1="244.6" x2="776.10" y2="252.4" stroke="#000" stroke-width="1.67"/>
<line x1="853.87" y1="244.6" x2="853.87" y2="252.4" stroke="#000" stroke-width="1.67"/>
<line x1="640.0" y1="27.90" x2="632.2" y2="27.90" stroke="#000" stroke-width="1.67"/>
<text x="625.40" y="36.30" text-anchor="end" stroke="#000" stroke-width="0.3">4</text>
<line x1="640.0" y1="82.70" x2="632.2" y2="82.70" stroke="#000" stroke-width="1.67"/>
<text x="625.40" y="91.10" text-anchor="end" stroke="#000" stroke-width="0.3">2</text>
<line x1="640.0" y1="137.50" x2="632.2" y2="137.50" stroke="#000" stroke-width="1.67"/>
<text x="625.40" y="145.90" text-anchor="end" stroke="#000" stroke-width="0.3">0</text>
<line x1="640.0" y1="192.30" x2="632.2" y2="192.30" stroke="#000" stroke-width="1.67"/>
<text x="625.40" y="200.70" text-anchor="end" stroke="#000" stroke-width="0.3">−2</text>
<text x="650.5" y="34.0"  text-anchor="start" font-size="23.5px" letter-spacing="0" fill="#fff" stroke="#000" stroke-width="6.8" stroke-linejoin="round" paint-order="stroke fill">(b)</text>
<text x="890.70" y="33.20" text-anchor="middle" letter-spacing="0.5" stroke="#000" stroke-width="0.3">NE</text>
<defs><clipPath id="c1"><rect x="924.6" y="3.0" width="272.2" height="241.6"/></clipPath></defs>
<g clip-path="url(#c1)">
<polyline points="925.1,129.3 928.2,125.8 929.8,127.0 931.7,136.4 934.0,146.9 936.8,156.2 939.9,158.6 942.9,155.1 945.7,146.9 948.5,141.5 951.5,141.5 954.6,141.0 956.9,135.2 959.3,134.0 962.1,135.2 963.9,142.2 965.6,149.2 967.9,149.2 969.5,153.9 971.9,162.1 973.8,166.7 976.6,167.2 979.6,164.4 981.9,167.9 984.3,172.6 986.6,178.0 988.2,180.3 990.1,177.3 992.4,171.4 995.3,165.6 997.1,164.9 999.0,167.9 1001.8,165.6 1004.1,162.1 1006.5,158.6 1008.3,159.7 1010.7,163.9 1013.5,160.9 1016.3,155.1 1018.6,149.2 1021.0,149.2 1023.3,139.9 1025.6,129.3 1028.0,122.3 1029.8,120.0 1032.2,123.5 1035.7,123.5 1039.7,123.5 1042.7,120.0 1046.2,115.3 1049.7,111.8 1053.2,108.3 1056.7,106.7 1058.4,110.6 1061.4,111.8 1064.9,111.8 1067.7,107.1 1071.4,106.0 1073.1,110.6 1075.4,120.0 1078.4,130.5 1080.8,137.5 1083.6,141.0 1087.1,144.5 1090.6,144.0 1092.9,145.7 1095.3,151.5 1098.1,159.7 1099.9,160.9 1102.3,151.5 1105.1,151.5 1107.4,150.4 1110.5,143.4 1113.5,138.2 1116.3,138.7 1119.1,142.2 1122.2,145.7 1125.2,150.4 1127.5,145.7 1129.9,136.8 1132.2,135.9 1135.0,136.8 1138.5,138.7 1142.0,139.9 1145.5,138.7 1147.9,136.8 1150.2,137.5 1152.5,140.3 1155.6,137.5 1158.4,136.4 1161.2,139.9 1164.2,143.4 1165.9,155.1 1167.7,169.1 1169.6,180.8 1171.9,177.3 1174.3,169.1 1175.9,166.3 1178.9,166.7 1181.7,167.9 1185.2,165.6 1189.2,163.2 1191.6,166.7 1193.9,172.6 1196.0,176.1" fill="none" stroke="#1f77b4" stroke-width="3.125" stroke-linejoin="round" stroke-linecap="square"/>
<polyline points="925.1,185.0 929.3,188.9 932.9,191.3 936.4,192.4 939.9,191.3 943.4,188.2 946.2,187.8 950.4,188.9 955.1,190.1 959.7,192.4 964.4,193.6 967.9,197.1 971.4,199.5 974.9,199.0 978.4,201.3 981.9,202.3 985.4,202.3 988.9,204.1 992.4,205.8 996.0,205.3 999.5,204.6 1003.0,204.6 1006.5,204.8 1010.0,207.6 1013.0,208.8 1015.8,207.6 1018.6,206.0 1021.0,204.6 1024.0,206.9 1027.0,208.3 1029.8,207.6 1032.6,206.5 1035.0,206.0 1038.0,203.0 1041.5,198.3 1045.0,191.3 1048.1,181.9 1050.9,172.6 1053.2,163.2 1056.7,149.2 1059.1,135.2 1061.4,121.1 1064.2,104.8 1067.2,88.4 1070.3,75.6 1072.8,66.2 1075.4,60.4 1078.2,58.5 1081.3,58.0 1084.8,57.3 1088.3,57.6 1091.8,59.2 1095.3,62.7 1098.8,67.4 1102.3,73.2 1105.8,79.1 1109.3,84.2 1112.8,87.3 1116.3,89.6 1119.8,91.2 1123.3,94.3 1126.8,97.8 1130.3,98.9 1133.8,97.3 1136.2,96.6 1139.7,101.3 1143.2,106.0 1146.7,108.3 1150.2,108.3 1153.7,106.0 1156.5,104.8 1160.7,106.0 1164.2,107.1 1167.7,106.7 1171.2,106.4 1174.7,107.1 1179.4,107.8 1184.1,110.6 1188.8,114.6 1193.4,118.3 1196.0,119.5" fill="none" stroke="#ff7f0e" stroke-width="3.125" stroke-linejoin="round" stroke-linecap="square"/>
<polyline points="929.3,149.9 933.3,149.9 938.8,150.0 945.3,150.1 952.4,150.2 959.7,150.3 966.7,150.4 974.1,150.5 982.1,150.7 990.4,150.9 998.2,151.0 1005.0,151.0 1010.2,150.8 1013.5,150.4 1015.3,149.9 1016.1,149.2 1016.4,148.5 1016.7,147.7 1017.5,146.8 1018.6,146.0 1019.8,145.1 1021.0,144.1 1022.1,143.1 1023.3,142.1 1024.5,141.0 1025.6,139.9 1026.8,138.8 1028.0,137.6 1029.1,136.5 1030.3,135.2 1031.5,134.0 1032.6,132.7 1033.8,131.4 1035.0,130.0 1036.2,128.6 1037.3,127.2 1038.5,125.8 1039.6,124.4 1040.8,123.0 1042.0,121.6 1043.1,120.2 1044.2,118.9 1045.3,117.6 1046.2,116.5 1047.2,115.4 1048.0,114.5 1048.9,113.5 1049.8,112.6 1050.6,111.8 1051.5,111.0 1052.5,110.2 1053.4,109.4 1054.3,108.7 1055.2,108.2 1056.0,107.8 1056.8,107.6 1057.5,107.5 1058.2,107.6 1058.8,107.7 1059.5,108.0 1060.2,108.3 1061.0,108.7 1061.7,109.2 1062.5,109.8 1063.3,110.4 1064.1,111.1 1064.9,111.8 1065.7,112.5 1066.5,113.2 1067.2,113.9 1068.0,114.7 1068.8,115.5 1069.6,116.5 1070.3,117.5 1071.1,118.6 1071.9,119.8 1072.7,121.0 1073.5,122.2 1074.2,123.5 1075.0,124.8 1075.8,126.2 1076.6,127.6 1077.4,129.0 1078.1,130.4 1078.9,131.7 1079.7,132.9 1080.5,134.1 1081.3,135.3 1082.0,136.5 1082.8,137.6 1083.6,138.7 1084.4,139.7 1085.1,140.8 1085.9,141.8 1086.7,142.8 1087.5,143.7 1088.3,144.5 1089.0,145.2 1089.7,145.9 1090.5,146.4 1091.2,147.0 1092.0,147.5 1092.9,148.0 1094.0,148.6 1095.1,149.1 1096.3,149.7 1097.5,150.2 1098.8,150.6 1099.9,151.1 1101.1,151.4 1102.1,151.7 1103.2,152.0 1104.3,152.2 1105.5,152.5 1107.0,152.7 1108.6,152.9 1110.5,153.1 1112.5,153.3 1114.6,153.5 1116.6,153.7 1118.6,153.9 1120.5,154.0 1122.1,154.1 1123.8,154.2 1125.6,154.3 1127.7,154.4 1130.3,154.6 1133.5,154.7 1137.3,154.9 1141.3,155.0 1145.5,155.2 1149.7,155.4 1153.7,155.5 1157.6,155.6 1161.7,155.8 1165.7,155.9 1169.6,156.0 1173.4,156.1 1177.1,156.2 1180.7,156.3 1184.4,156.4 1188.0,156.5 1191.3,156.6 1194.0,156.6 1196.0,156.7" fill="none" stroke="#1f77b4" stroke-width="3.3" stroke-linejoin="round" stroke-linecap="butt" stroke-dasharray="3.3 4.98"/>
<polyline points="950.4,242.0 951.3,241.4 952.5,240.6 954.0,239.7 955.5,238.7 957.1,237.7 958.6,236.8 959.9,236.0 961.3,235.3 962.7,234.5 964.0,233.8 965.4,233.0 966.7,232.2 968.1,231.3 969.5,230.5 970.8,229.6 972.2,228.7 973.6,227.9 974.9,227.0 976.3,226.2 977.6,225.4 979.0,224.6 980.4,223.8 981.7,223.0 983.1,222.1 984.5,221.3 985.8,220.4 987.2,219.6 988.6,218.7 989.9,217.8 991.3,217.0 992.6,216.1 994.0,215.3 995.4,214.4 996.7,213.6 998.1,212.7 999.5,211.8 1000.8,211.0 1002.2,210.1 1003.5,209.2 1004.9,208.3 1006.3,207.4 1007.6,206.5 1009.0,205.6 1010.4,204.7 1011.7,203.8 1013.1,203.0 1014.5,202.0 1015.8,201.1 1017.2,200.1 1018.6,199.1 1020.0,198.0 1021.4,196.9 1022.7,195.9 1024.0,194.8 1025.2,193.7 1026.5,192.6 1027.6,191.6 1028.8,190.5 1029.9,189.4 1031.0,188.2 1032.1,187.1 1033.1,186.0 1034.0,184.8 1035.0,183.6 1035.9,182.4 1036.8,181.2 1037.8,180.0 1038.7,178.8 1039.5,177.6 1040.4,176.3 1041.2,175.0 1042.0,173.8 1042.8,172.4 1043.5,171.1 1044.2,169.7 1044.9,168.3 1045.5,166.9 1046.2,165.6 1046.8,164.2 1047.5,162.7 1048.1,161.2 1048.7,159.8 1049.3,158.5 1049.7,157.4 1050.0,156.6 1050.2,156.1 1050.3,155.7 1050.4,155.3 1050.6,154.7 1050.9,153.9 1051.3,152.7 1051.9,151.3 1052.5,149.7 1053.1,148.0 1053.8,146.3 1054.4,144.5 1055.0,142.7 1055.5,140.8 1056.1,138.8 1056.7,136.8 1057.3,134.8 1057.9,132.8 1058.5,130.9 1059.1,128.9 1059.6,127.0 1060.2,125.0 1060.8,123.1 1061.4,121.1 1062.0,119.2 1062.6,117.2 1063.1,115.3 1063.7,113.4 1064.3,111.4 1064.9,109.5 1065.5,107.5 1066.1,105.5 1066.6,103.5 1067.2,101.6 1067.8,99.7 1068.4,97.8 1069.0,96.0 1069.6,94.2 1070.2,92.4 1070.7,90.7 1071.3,89.0 1071.9,87.3 1072.5,85.5 1073.1,83.7 1073.7,81.9 1074.2,80.2 1074.8,78.4 1075.4,76.7 1076.0,75.1 1076.6,73.5 1077.2,71.8 1077.7,70.3 1078.3,68.8 1078.9,67.4 1079.5,66.1 1080.1,64.8 1080.7,63.6 1081.3,62.5 1081.8,61.4 1082.4,60.4 1083.0,59.4 1083.6,58.6 1084.2,57.8 1084.8,57.0 1085.3,56.3 1085.9,55.7 1086.5,55.2 1087.1,54.7 1087.7,54.3 1088.3,53.9 1088.9,53.6 1089.4,53.4 1090.0,53.1 1090.5,53.0 1091.0,52.8 1091.5,52.7 1092.0,52.7 1092.5,52.7 1093.0,52.7 1093.5,52.7 1094.1,52.8 1094.6,53.0 1095.2,53.1 1095.7,53.4 1096.3,53.6 1096.9,53.9 1097.5,54.3 1098.1,54.7 1098.7,55.2 1099.2,55.7 1099.8,56.3 1100.4,57.0 1101.0,57.8 1101.6,58.6 1102.2,59.5 1102.8,60.4 1103.3,61.4 1103.9,62.4 1104.5,63.5 1105.1,64.6 1105.7,65.8 1106.3,66.9 1106.8,68.1 1107.4,69.3 1108.0,70.6 1108.6,71.9 1109.2,73.1 1109.8,74.4 1110.3,75.7 1110.9,76.9 1111.5,78.2 1112.1,79.4 1112.7,80.6 1113.3,81.9 1113.9,83.1 1114.4,84.3 1115.0,85.5 1115.6,86.8 1116.2,87.9 1116.8,89.1 1117.4,90.3 1117.9,91.4 1118.5,92.6 1119.1,93.7 1119.7,94.8 1120.3,95.9 1120.9,97.0 1121.4,98.0 1122.0,99.0 1122.6,100.0 1123.2,101.0 1123.8,102.0 1124.4,102.9 1125.0,103.8 1125.5,104.6 1126.1,105.5 1126.7,106.3 1127.3,107.1 1127.9,107.9 1128.5,108.8 1129.0,109.6 1129.6,110.3 1130.2,111.1 1130.8,111.8 1131.4,112.5 1132.0,113.1 1132.5,113.7 1133.1,114.2 1133.7,114.8 1134.3,115.3 1134.9,115.8 1135.5,116.3 1136.1,116.7 1136.6,117.1 1137.2,117.5 1137.8,117.9 1138.4,118.2 1139.0,118.5 1139.6,118.8 1140.1,119.0 1140.7,119.3 1141.3,119.5 1141.9,119.7 1142.5,119.9 1143.0,120.1 1143.6,120.2 1144.2,120.3 1144.8,120.4 1145.5,120.5 1146.2,120.6 1146.8,120.7 1147.6,120.7 1148.3,120.7 1149.0,120.7 1149.8,120.6 1150.5,120.5 1151.3,120.4 1152.1,120.3 1152.9,120.2 1153.7,120.0 1154.5,119.8 1155.3,119.5 1156.0,119.3 1156.8,119.0 1157.6,118.7 1158.4,118.3 1159.2,118.0 1159.9,117.6 1160.7,117.2 1161.5,116.8 1162.3,116.4 1163.0,116.0 1163.8,115.6 1164.6,115.2 1165.4,114.7 1166.2,114.3 1166.9,113.9 1167.7,113.4 1168.5,113.0 1169.3,112.5 1170.1,112.0 1170.8,111.6 1171.6,111.1 1172.4,110.6 1173.2,110.2 1174.0,109.7 1174.7,109.2 1175.5,108.8 1176.3,108.3 1177.1,107.8 1177.8,107.3 1178.6,106.8 1179.4,106.3 1180.2,105.8 1181.0,105.3 1181.7,104.8 1182.5,104.3 1183.3,103.8 1184.1,103.4 1184.9,102.9 1185.6,102.4 1186.4,102.0 1187.2,101.5 1188.0,101.1 1188.7,100.7 1189.5,100.2 1190.3,99.8 1191.1,99.4 1192.0,99.0 1192.9,98.5 1193.8,98.1 1194.7,97.7 1195.5,97.3 1196.0,97.1" fill="none" stroke="#ff7f0e" stroke-width="3.3" stroke-linejoin="round" stroke-linecap="butt" stroke-dasharray="3.3 4.98"/>
</g>
<rect x="924.6" y="3.0" width="272.2" height="241.6" fill="none" stroke="#000" stroke-width="1.67"/>
<line x1="982.93" y1="244.6" x2="982.93" y2="252.4" stroke="#000" stroke-width="1.67"/>
<line x1="1060.70" y1="244.6" x2="1060.70" y2="252.4" stroke="#000" stroke-width="1.67"/>
<line x1="1138.47" y1="244.6" x2="1138.47" y2="252.4" stroke="#000" stroke-width="1.67"/>
<line x1="924.6" y1="27.90" x2="916.8000000000001" y2="27.90" stroke="#000" stroke-width="1.67"/>
<line x1="924.6" y1="82.70" x2="916.8000000000001" y2="82.70" stroke="#000" stroke-width="1.67"/>
<line x1="924.6" y1="137.50" x2="916.8000000000001" y2="137.50" stroke="#000" stroke-width="1.67"/>
<line x1="924.6" y1="192.30" x2="916.8000000000001" y2="192.30" stroke="#000" stroke-width="1.67"/>
<text x="935.1" y="34.0"  text-anchor="start" font-size="23.5px" letter-spacing="0" fill="#fff" stroke="#000" stroke-width="6.8" stroke-linejoin="round" paint-order="stroke fill">(c)</text>
<text x="1175.30" y="33.20" text-anchor="middle" letter-spacing="0.5" stroke="#000" stroke-width="0.3">NW</text>
<defs><clipPath id="c2"><rect x="640.0" y="256.9" width="272.2" height="241.6"/></clipPath></defs>
<g clip-path="url(#c2)">
<polyline points="641.1,398.0 644.2,399.2 647.7,399.9 650.5,399.7 652.4,395.7 654.2,402.7 656.6,412.1 658.9,421.4 661.2,426.1 664.0,425.6 666.8,424.2 668.7,414.4 671.1,405.1 673.4,399.2 675.3,398.0 676.9,407.4 678.5,417.9 679.9,426.1 681.6,422.6 683.2,420.2 685.1,423.8 686.9,427.3 688.6,426.1 690.2,419.1 692.1,414.4 694.4,413.9 697.2,413.2 699.6,410.9 701.4,405.1 703.3,393.4 705.6,384.0 708.0,380.0 710.3,381.7 712.0,377.0 714.3,373.0 717.3,371.8 719.7,373.5 722.5,371.8 725.3,371.1 727.1,373.5 729.0,377.0 730.6,372.3 732.3,375.8 734.2,380.5 736.5,384.7 738.8,381.7 741.2,377.0 743.0,375.8 744.7,370.0 747.0,365.3 748.6,372.3 750.5,382.8 752.4,373.5 754.0,359.5 756.4,345.4 758.7,343.1 760.3,345.4 762.2,347.8 764.1,340.8 765.7,340.3 768.0,344.3 769.7,352.4 771.5,360.6 773.9,366.5 776.2,370.0 779.0,372.3 781.4,375.8 783.7,380.0 785.6,372.3 787.4,364.1 789.1,359.5 791.4,363.0 793.7,367.6 796.1,370.0 798.4,372.3 800.8,371.1 803.1,366.5 805.4,361.8 807.8,364.1 810.1,368.3 812.4,367.6 814.8,363.0 817.1,360.6 819.5,359.5 821.8,361.8 823.0,365.3 825.3,360.6 827.6,356.0 830.0,356.0 832.3,359.5 834.2,367.6 837.0,368.8 839.3,367.6 841.7,371.1 844.0,377.0 846.3,384.0 848.7,388.7 851.0,386.3 853.3,380.5 855.7,378.2 858.0,375.8 860.4,374.6 862.2,379.3 863.9,377.0 866.2,375.8 868.5,382.8 870.9,387.5 873.2,380.5 875.5,375.8 877.9,373.5 880.2,372.3 882.6,373.5 884.9,379.3 887.2,385.2 889.6,384.0 891.9,386.3 894.2,391.0 896.6,385.2 898.9,379.3 901.2,386.3 903.6,396.8 905.2,401.5 907.1,395.7 909.4,392.2 912.0,391.7" fill="none" stroke="#1f77b4" stroke-width="3.125" stroke-linejoin="round" stroke-linecap="square"/>
<polyline points="641.1,424.9 644.2,425.6 647.7,423.3 651.2,421.9 654.7,420.2 658.2,419.1 661.7,419.5 665.2,419.8 668.7,419.1 672.2,418.4 675.7,420.2 679.2,417.9 682.7,414.9 686.2,413.9 689.8,412.1 693.3,410.9 696.8,411.6 700.3,409.7 703.8,409.0 707.3,410.2 710.8,412.1 714.3,415.6 717.8,419.5 720.6,420.9 722.9,420.2 726.0,423.3 729.5,425.6 733.0,426.1 736.5,425.6 740.0,425.4 743.5,425.4 747.0,426.1 750.5,428.0 753.3,429.1 756.4,426.1 759.9,421.4 763.4,415.6 766.4,407.4 769.2,396.9 771.5,386.4 772.7,373.5 775.8,357.1 778.6,340.8 781.4,327.9 784.4,316.2 787.4,305.7 790.2,299.9 793.0,297.5 796.1,298.2 798.9,302.2 801.9,310.4 804.7,318.6 807.8,325.6 810.8,332.6 814.1,338.4 817.1,344.3 820.2,350.1 823.0,352.9 826.5,354.8 829.5,358.3 832.3,363.0 835.8,366.5 839.3,368.8 842.8,370.7 846.3,372.3 849.1,374.6 852.2,378.2 855.7,379.3 859.2,380.5 862.7,384.5 866.2,387.5 869.7,390.3 873.2,394.5 876.7,397.6 880.2,397.6 883.7,395.7 887.2,395.0 890.7,393.8 894.2,394.5 897.7,396.1 901.2,396.8 904.8,398.0 908.3,399.7 912.0,400.8" fill="none" stroke="#ff7f0e" stroke-width="3.125" stroke-linejoin="round" stroke-linecap="square"/>
<polyline points="641.1,415.1 641.6,415.0 642.1,414.8 642.7,414.7 643.5,414.5 644.4,414.2 645.3,413.9 646.5,413.6 647.7,413.2 649.1,412.8 650.6,412.4 652.1,412.0 653.5,411.6 655.0,411.2 656.6,410.8 658.2,410.5 659.8,410.1 661.4,409.7 662.9,409.3 664.3,408.8 665.7,408.3 667.0,407.9 668.4,407.4 669.7,406.9 671.1,406.5 672.4,406.0 673.8,405.7 675.1,405.3 676.5,404.9 677.9,404.5 679.2,404.1 680.6,403.7 682.0,403.2 683.3,402.8 684.7,402.3 686.1,401.8 687.4,401.3 688.8,400.8 690.1,400.3 691.5,399.8 692.9,399.3 694.2,398.8 695.6,398.3 697.0,397.7 698.4,397.1 699.8,396.6 701.1,396.0 702.5,395.4 703.8,394.8 705.0,394.2 706.2,393.6 707.4,393.0 708.5,392.5 709.6,391.9 710.8,391.3 712.0,390.6 713.1,390.0 714.3,389.3 715.5,388.7 716.6,388.0 717.8,387.3 719.0,386.6 720.1,385.9 721.3,385.2 722.5,384.4 723.6,383.8 724.8,383.1 725.9,382.5 727.1,382.0 728.2,381.5 729.3,380.9 730.5,380.3 731.8,379.6 733.2,378.7 734.7,377.7 736.2,376.7 737.8,375.6 739.4,374.5 741.2,373.5 743.0,372.4 745.0,371.4 747.0,370.3 749.0,369.3 751.0,368.3 752.8,367.4 754.5,366.5 756.1,365.7 757.7,365.0 759.2,364.3 760.7,363.6 762.2,363.0 763.8,362.4 765.3,361.8 766.9,361.3 768.4,360.9 770.0,360.5 771.5,360.2 773.1,359.9 774.7,359.7 776.2,359.6 777.8,359.5 779.3,359.5 780.9,359.5 782.5,359.5 784.0,359.5 785.6,359.6 787.1,359.7 788.7,359.8 790.2,359.9 791.8,360.1 793.4,360.2 794.9,360.4 796.5,360.6 798.0,360.9 799.6,361.1 801.1,361.4 802.7,361.6 804.3,362.0 805.8,362.3 807.4,362.6 808.9,363.0 810.5,363.3 812.1,363.7 813.6,364.1 815.2,364.5 816.7,364.9 818.3,365.3 819.8,365.8 821.4,366.2 823.0,366.7 824.5,367.2 826.1,367.8 827.6,368.3 829.2,368.9 830.7,369.6 832.3,370.2 833.9,370.9 835.4,371.6 837.0,372.3 838.5,373.1 840.1,373.8 841.7,374.6 843.2,375.5 844.8,376.2 846.3,377.0 847.9,377.7 849.4,378.4 851.0,379.1 852.6,379.7 854.1,380.4 855.7,381.0 857.2,381.5 858.8,382.1 860.4,382.6 861.9,383.1 863.5,383.6 865.0,384.0 866.6,384.4 868.1,384.7 869.7,385.0 871.3,385.3 872.8,385.6 874.4,385.9 875.9,386.1 877.5,386.3 879.0,386.5 880.6,386.7 882.2,386.9 883.7,387.0 885.3,387.2 886.8,387.3 888.4,387.4 890.0,387.5 891.5,387.6 893.1,387.7 894.6,387.8 896.2,387.9 897.7,388.0 899.3,388.1 900.8,388.2 902.4,388.2 904.1,388.2 905.9,388.2 907.8,388.2 909.5,388.2 911.0,388.2 912.0,388.2" fill="none" stroke="#1f77b4" stroke-width="3.3" stroke-linejoin="round" stroke-linecap="butt" stroke-dasharray="3.3 4.98"/>
<polyline points="641.1,437.1 641.6,437.0 642.1,436.9 642.7,436.7 643.5,436.6 644.4,436.4 645.3,436.1 646.5,435.9 647.8,435.6 649.2,435.2 650.7,434.9 652.1,434.6 653.5,434.3 654.9,434.0 656.2,433.7 657.5,433.4 658.9,433.2 660.3,432.9 661.7,432.6 663.2,432.3 664.8,432.0 666.4,431.7 668.0,431.4 669.6,431.1 671.1,430.8 672.5,430.5 673.9,430.2 675.2,429.9 676.6,429.6 677.9,429.4 679.2,429.1 680.6,428.9 682.0,428.6 683.3,428.4 684.7,428.2 686.1,428.0 687.4,427.7 688.8,427.5 690.1,427.2 691.4,426.9 692.8,426.6 694.2,426.3 695.6,426.1 697.1,425.9 698.7,425.7 700.3,425.5 701.9,425.3 703.4,425.1 704.9,424.9 706.4,424.7 707.8,424.4 709.1,424.1 710.4,423.8 711.8,423.5 713.1,423.3 714.5,423.0 715.8,422.8 717.2,422.6 718.6,422.4 719.9,422.1 721.3,421.9 722.7,421.6 724.0,421.4 725.4,421.1 726.8,420.8 728.1,420.5 729.5,420.2 730.8,420.0 732.2,419.7 733.6,419.5 734.9,419.2 736.3,418.8 737.7,418.4 739.0,417.8 740.4,417.2 741.8,416.6 743.2,415.9 744.5,415.1 745.8,414.4 747.1,413.7 748.3,412.9 749.5,412.2 750.6,411.4 751.8,410.6 752.8,409.7 753.9,408.8 754.9,407.9 755.9,407.0 756.9,406.0 757.8,404.9 758.7,403.9 759.6,402.8 760.4,401.6 761.2,400.5 761.9,399.3 762.7,398.1 763.4,396.9 764.0,395.8 764.6,394.7 765.2,393.7 765.7,392.5 766.3,391.3 766.9,389.9 767.5,388.2 768.0,386.3 768.6,384.3 769.2,382.2 769.8,380.2 770.4,378.2 771.0,376.2 771.5,374.3 772.1,372.5 772.7,370.5 773.3,368.6 773.9,366.5 774.5,364.2 775.1,361.9 775.6,359.5 776.2,357.0 776.8,354.7 777.4,352.4 778.0,350.4 778.6,348.4 779.1,346.5 779.7,344.6 780.3,342.7 780.9,340.8 781.5,338.8 782.1,336.8 782.6,334.8 783.2,332.8 783.8,330.9 784.4,329.1 785.0,327.4 785.6,325.7 786.2,324.1 786.7,322.6 787.3,321.1 787.9,319.7 788.5,318.4 789.1,317.1 789.7,315.9 790.2,314.8 790.8,313.7 791.4,312.7 792.0,311.8 792.6,310.9 793.2,310.1 793.7,309.3 794.3,308.6 794.9,308.0 795.5,307.6 796.1,307.2 796.7,306.8 797.3,306.6 797.8,306.4 798.4,306.2 799.0,306.0 799.6,305.8 800.2,305.7 800.8,305.6 801.3,305.6 801.9,305.7 802.5,305.9 803.1,306.2 803.7,306.6 804.3,307.0 804.8,307.5 805.4,308.0 806.0,308.7 806.6,309.3 807.2,310.1 807.8,310.9 808.4,311.8 808.9,312.7 809.5,313.7 810.1,314.8 810.7,315.9 811.3,317.1 811.9,318.4 812.4,319.7 813.0,321.2 813.6,322.7 814.2,324.3 814.8,325.9 815.4,327.5 815.9,329.1 816.5,330.6 817.1,332.2 817.7,333.8 818.3,335.3 818.9,336.9 819.5,338.4 820.0,340.0 820.6,341.5 821.2,343.0 821.8,344.6 822.4,346.1 823.0,347.8 823.5,349.5 824.1,351.2 824.7,353.0 825.3,354.8 825.9,356.6 826.5,358.3 827.0,359.9 827.6,361.5 828.2,363.1 828.8,364.7 829.4,366.2 830.0,367.6 830.6,369.1 831.1,370.5 831.7,371.9 832.3,373.3 832.9,374.6 833.5,375.8 834.1,376.9 834.6,378.0 835.2,379.0 835.8,379.9 836.4,380.8 837.0,381.7 837.6,382.5 838.2,383.3 838.7,384.1 839.3,384.9 839.9,385.6 840.5,386.3 841.1,387.0 841.7,387.6 842.2,388.2 842.8,388.8 843.4,389.3 844.0,389.8 844.6,390.3 845.2,390.7 845.7,391.1 846.3,391.5 846.9,391.8 847.5,392.2 848.1,392.5 848.6,392.8 849.2,393.1 849.7,393.3 850.4,393.6 851.0,393.8 851.7,394.0 852.5,394.3 853.3,394.5 854.1,394.7 854.9,394.8 855.7,395.0 856.4,395.1 857.1,395.2 857.9,395.2 858.6,395.2 859.4,395.2 860.4,395.2 861.4,395.2 862.5,395.1 863.7,395.0 864.9,394.8 866.2,394.7 867.4,394.5 868.5,394.4 869.7,394.2 870.9,394.0 872.0,393.8 873.2,393.6 874.4,393.3 875.5,393.1 876.7,392.8 877.9,392.5 879.0,392.3 880.2,392.0 881.4,391.7 882.6,391.5 883.7,391.2 884.9,391.0 886.1,390.7 887.2,390.5 888.4,390.3 889.6,390.1 890.7,389.9 891.9,389.7 893.1,389.5 894.2,389.3 895.4,389.1 896.5,389.0 897.6,388.8 898.8,388.7 899.9,388.5 901.1,388.4 902.4,388.2 904.0,388.0 905.8,387.8 907.6,387.6 909.4,387.3 910.9,387.2 912.0,387.0" fill="none" stroke="#ff7f0e" stroke-width="3.3" stroke-linejoin="round" stroke-linecap="butt" stroke-dasharray="3.3 4.98"/>
</g>
<rect x="640.0" y="256.9" width="272.2" height="241.6" fill="none" stroke="#000" stroke-width="1.67"/>
<line x1="698.33" y1="498.5" x2="698.33" y2="506.3" stroke="#000" stroke-width="1.67"/>
<text x="698.33" y="530.4" text-anchor="middle" stroke="#000" stroke-width="0.3">−2</text>
<line x1="776.10" y1="498.5" x2="776.10" y2="506.3" stroke="#000" stroke-width="1.67"/>
<text x="776.10" y="530.4" text-anchor="middle" stroke="#000" stroke-width="0.3">0</text>
<line x1="853.87" y1="498.5" x2="853.87" y2="506.3" stroke="#000" stroke-width="1.67"/>
<text x="853.87" y="530.4" text-anchor="middle" stroke="#000" stroke-width="0.3">2</text>
<line x1="640.0" y1="282.30" x2="632.2" y2="282.30" stroke="#000" stroke-width="1.67"/>
<text x="625.40" y="290.70" text-anchor="end" stroke="#000" stroke-width="0.3">4</text>
<line x1="640.0" y1="337.10" x2="632.2" y2="337.10" stroke="#000" stroke-width="1.67"/>
<text x="625.40" y="345.50" text-anchor="end" stroke="#000" stroke-width="0.3">2</text>
<line x1="640.0" y1="391.90" x2="632.2" y2="391.90" stroke="#000" stroke-width="1.67"/>
<text x="625.40" y="400.30" text-anchor="end" stroke="#000" stroke-width="0.3">0</text>
<line x1="640.0" y1="446.70" x2="632.2" y2="446.70" stroke="#000" stroke-width="1.67"/>
<text x="625.40" y="455.10" text-anchor="end" stroke="#000" stroke-width="0.3">−2</text>
<text x="650.5" y="287.9"  text-anchor="start" font-size="23.5px" letter-spacing="0" fill="#fff" stroke="#000" stroke-width="6.8" stroke-linejoin="round" paint-order="stroke fill">(d)</text>
<text x="890.70" y="287.10" text-anchor="middle" letter-spacing="0.5" stroke="#000" stroke-width="0.3">SE</text>
<defs><clipPath id="c3"><rect x="924.6" y="256.9" width="272.2" height="241.6"/></clipPath></defs>
<g clip-path="url(#c3)">
<polyline points="925.1,412.1 927.5,416.3 930.5,419.1 932.9,413.2 935.2,409.3 937.5,412.1 939.9,420.2 942.2,417.9 943.8,410.9 945.7,406.9 948.0,412.1 949.9,423.8 951.5,434.3 954.6,434.3 956.2,422.6 957.9,410.9 959.7,407.4 962.1,413.2 964.9,421.4 967.9,418.6 970.9,415.6 973.8,412.1 976.6,405.1 979.6,398.5 981.9,402.7 985.0,408.6 987.8,414.4 990.6,419.5 992.9,410.9 995.3,400.4 996.7,398.0 999.0,405.1 1001.8,404.6 1004.1,393.4 1006.0,384.0 1008.3,372.3 1010.7,366.0 1012.3,370.0 1014.6,365.3 1017.0,354.8 1018.6,347.8 1021.0,345.0 1024.0,341.9 1026.3,333.8 1028.7,322.1 1031.0,313.9 1033.3,309.2 1035.7,305.7 1038.0,302.2 1040.8,298.2 1042.7,303.4 1045.0,313.9 1046.9,318.6 1049.7,317.4 1052.7,316.2 1055.1,322.1 1057.9,327.9 1059.8,330.2 1061.4,324.4 1063.3,322.1 1065.4,327.9 1067.2,337.3 1069.1,348.9 1071.4,360.6 1073.8,372.3 1076.1,382.8 1077.0,391.0 1080.8,397.6 1083.6,401.5 1086.4,403.2 1089.4,401.5 1091.8,407.4 1094.8,406.2 1097.1,398.5 1099.9,399.9 1102.8,401.5 1105.1,406.2 1107.4,414.4 1109.8,420.2 1111.6,421.9 1114.4,417.9 1117.5,414.4 1120.5,412.5 1122.9,406.2 1125.7,399.2 1128.5,396.2 1131.5,395.2 1134.5,393.4 1137.3,389.2 1140.1,387.5 1142.5,389.9 1144.8,392.2 1147.9,387.5 1151.4,381.7 1154.2,377.5 1156.5,376.5 1158.8,380.5 1161.9,389.9 1164.9,402.7 1167.7,414.4 1171.2,422.6 1174.7,429.6 1177.5,434.3 1180.6,432.6 1182.9,438.9 1185.2,442.0 1189.2,442.9 1191.1,433.1 1193.0,422.6 1196.0,419.1" fill="none" stroke="#1f77b4" stroke-width="3.125" stroke-linejoin="round" stroke-linecap="square"/>
<polyline points="925.1,423.8 928.2,428.4 931.7,431.9 934.5,432.6 936.8,431.2 939.9,434.3 943.4,436.1 946.9,438.5 950.4,441.3 952.7,441.3 956.2,438.9 959.7,436.1 963.2,435.0 966.7,433.6 970.2,432.6 973.8,433.1 977.3,431.2 979.6,430.3 982.6,431.9 985.4,435.4 988.9,440.1 992.4,445.3 996.0,450.6 999.5,453.7 1002.3,456.5 1005.3,460.0 1008.3,462.3 1011.6,463.5 1014.6,463.9 1018.2,463.9 1021.7,462.3 1024.7,460.0 1027.0,458.8 1029.8,461.1 1032.6,461.6 1035.7,458.3 1038.7,454.6 1041.1,449.5 1043.4,440.1 1045.7,428.4 1048.1,416.7 1050.9,403.9 1053.2,392.2 1055.5,378.2 1057.9,366.5 1060.2,357.1 1063.0,352.0 1066.1,350.1 1068.4,351.3 1070.0,356.0 1072.4,359.5 1075.4,359.5 1078.9,358.3 1082.4,360.6 1085.9,365.3 1089.4,372.3 1092.9,380.5 1096.4,386.3 1099.9,389.1 1103.5,389.4 1107.0,386.3 1110.5,380.5 1114.0,375.8 1117.5,375.8 1121.0,377.0 1124.5,378.6 1126.8,379.3 1130.3,374.6 1133.8,371.1 1137.3,370.7 1140.1,370.0 1143.2,366.0 1145.5,363.7 1149.0,363.4 1152.5,361.8 1156.0,361.8 1159.5,364.1 1163.0,368.3 1165.4,369.5 1168.9,368.3 1171.2,367.6 1173.6,372.3 1177.1,379.3 1180.6,385.2 1182.9,385.9 1186.4,382.8 1189.9,378.2 1193.4,373.0 1196.0,370.0" fill="none" stroke="#ff7f0e" stroke-width="3.125" stroke-linejoin="round" stroke-linecap="square"/>
<polyline points="925.1,413.2 928.5,413.2 933.3,413.3 938.9,413.3 944.8,413.3 950.4,413.3 955.1,413.2 958.9,413.2 962.5,413.2 965.8,413.1 968.7,413.0 971.4,412.9 973.8,412.8 975.7,412.6 977.3,412.3 978.5,412.0 979.6,411.7 980.7,411.3 981.9,410.9 983.3,410.4 984.7,410.0 986.1,409.5 987.5,408.9 988.8,408.2 990.1,407.4 991.4,406.4 992.6,405.3 993.8,404.0 995.0,402.8 996.1,401.5 997.1,400.4 998.0,399.5 998.8,398.8 999.5,398.1 1000.2,397.3 1000.9,396.2 1001.8,394.5 1002.9,392.2 1004.0,389.2 1005.3,385.9 1006.6,382.6 1007.7,379.5 1008.8,377.0 1009.7,375.2 1010.5,374.0 1011.3,373.0 1012.0,372.0 1012.7,370.7 1013.5,368.8 1014.3,366.2 1015.0,363.0 1015.8,359.5 1016.6,356.0 1017.4,352.8 1018.2,350.1 1018.9,348.1 1019.7,346.5 1020.5,345.1 1021.3,343.9 1022.0,342.5 1022.8,340.8 1023.6,338.7 1024.4,336.4 1025.2,334.0 1025.9,331.6 1026.7,329.1 1027.5,326.7 1028.3,324.3 1029.1,321.8 1029.8,319.4 1030.6,317.0 1031.4,314.7 1032.2,312.7 1033.0,311.0 1033.7,309.4 1034.5,308.0 1035.3,306.8 1036.1,305.6 1036.8,304.5 1037.6,303.4 1038.4,302.4 1039.2,301.4 1040.0,300.6 1040.7,300.1 1041.5,299.9 1042.3,300.1 1043.1,300.6 1043.9,301.5 1044.6,302.5 1045.4,303.5 1046.2,304.5 1047.0,305.5 1047.8,306.6 1048.5,307.8 1049.3,309.0 1050.1,310.2 1050.9,311.5 1051.7,313.0 1052.4,314.4 1053.2,316.0 1054.0,317.6 1054.8,319.2 1055.5,320.9 1056.3,322.6 1057.1,324.3 1057.9,326.0 1058.7,327.8 1059.4,329.6 1060.2,331.4 1061.0,333.3 1061.8,335.1 1062.6,337.0 1063.3,339.0 1064.1,341.0 1064.9,343.1 1065.7,345.3 1066.5,347.6 1067.2,350.0 1068.0,352.4 1068.8,354.8 1069.6,357.1 1070.3,359.5 1071.1,361.9 1071.9,364.3 1072.7,366.6 1073.5,368.9 1074.2,371.1 1075.0,373.2 1075.8,375.3 1076.6,377.2 1077.4,379.1 1078.1,381.0 1078.9,382.8 1079.7,384.7 1080.5,386.5 1081.3,388.4 1082.0,390.1 1082.8,391.8 1083.6,393.3 1084.4,394.7 1085.1,396.0 1085.9,397.1 1086.6,398.2 1087.4,399.3 1088.3,400.4 1089.2,401.4 1090.1,402.5 1091.1,403.5 1092.1,404.5 1093.1,405.4 1094.1,406.2 1095.1,406.9 1096.0,407.5 1097.0,408.0 1097.9,408.5 1098.9,408.9 1099.9,409.2 1100.9,409.5 1101.6,409.8 1102.4,410.0 1103.4,410.1 1104.8,410.3 1107.0,410.4 1109.9,410.5 1113.5,410.6 1117.6,410.7 1121.9,410.8 1126.2,410.8 1130.3,410.9 1134.2,410.9 1138.1,410.9 1142.0,410.9 1145.9,410.9 1149.8,410.9 1153.7,410.9 1157.6,410.9 1161.7,410.9 1165.7,410.9 1169.6,410.9 1173.4,410.9 1177.1,410.9 1180.7,410.9 1184.4,410.9 1188.0,410.9 1191.3,410.9 1194.0,410.9 1196.0,410.9" fill="none" stroke="#1f77b4" stroke-width="3.3" stroke-linejoin="round" stroke-linecap="butt" stroke-dasharray="3.3 4.98"/>
<polyline points="925.1,495.0 925.6,494.9 926.1,494.6 926.7,494.3 927.5,494.0 928.4,493.6 929.3,493.2 930.5,492.6 931.8,492.0 933.3,491.3 934.7,490.6 936.2,489.9 937.5,489.2 938.8,488.5 939.9,487.9 941.0,487.2 942.2,486.5 943.3,485.9 944.5,485.2 945.8,484.6 947.2,484.0 948.6,483.3 950.0,482.7 951.4,482.1 952.7,481.5 953.9,480.8 955.1,480.2 956.2,479.5 957.3,478.8 958.5,478.2 959.7,477.5 961.0,476.8 962.4,476.2 963.8,475.5 965.2,474.8 966.6,474.2 967.9,473.5 969.1,472.9 970.3,472.3 971.4,471.7 972.5,471.0 973.7,470.4 974.9,469.8 976.2,469.1 977.6,468.5 979.0,467.8 980.4,467.1 981.8,466.5 983.1,465.8 984.3,465.2 985.5,464.5 986.6,463.8 987.7,463.2 988.9,462.5 990.1,461.8 991.4,461.2 992.8,460.5 994.2,459.7 995.6,459.0 996.9,458.3 998.3,457.6 999.6,457.0 1000.9,456.3 1002.2,455.7 1003.5,455.0 1004.7,454.3 1006.0,453.7 1007.3,453.0 1008.5,452.3 1009.8,451.6 1011.0,450.9 1012.2,450.2 1013.5,449.5 1014.7,448.8 1016.0,448.1 1017.2,447.4 1018.5,446.7 1019.7,446.0 1021.0,445.3 1022.2,444.5 1023.3,443.8 1024.5,443.1 1025.7,442.4 1026.8,441.6 1028.0,440.8 1029.1,440.0 1030.2,439.1 1031.4,438.3 1032.5,437.4 1033.5,436.4 1034.5,435.4 1035.5,434.4 1036.4,433.3 1037.2,432.1 1038.1,430.9 1038.9,429.7 1039.7,428.4 1040.4,427.1 1041.2,425.8 1041.9,424.4 1042.5,423.0 1043.2,421.6 1043.9,420.2 1044.5,418.9 1045.0,417.6 1045.6,416.3 1046.1,415.0 1046.7,413.6 1047.4,412.1 1048.1,410.5 1049.0,408.9 1049.8,407.3 1050.7,405.6 1051.5,403.6 1052.3,401.5 1052.9,399.1 1053.5,396.3 1054.1,393.4 1054.7,390.5 1055.2,387.7 1055.8,385.2 1056.4,382.9 1056.9,380.9 1057.5,379.0 1058.1,377.2 1058.7,375.4 1059.3,373.5 1059.9,371.5 1060.5,369.4 1061.0,367.3 1061.6,365.3 1062.2,363.5 1062.8,361.8 1063.4,360.3 1063.9,359.0 1064.5,357.9 1065.1,356.8 1065.7,355.8 1066.3,354.8 1066.9,353.8 1067.5,352.9 1068.2,352.1 1068.8,351.3 1069.5,350.7 1070.3,350.1 1071.0,349.6 1071.9,349.2 1072.7,348.8 1073.6,348.6 1074.5,348.6 1075.4,348.9 1076.3,349.6 1077.3,350.5 1078.3,351.6 1079.3,352.9 1080.3,354.4 1081.3,356.0 1082.2,357.8 1083.2,359.8 1084.2,362.1 1085.2,364.4 1086.2,366.7 1087.1,368.8 1087.9,370.8 1088.7,372.9 1089.5,374.9 1090.3,376.8 1091.0,378.7 1091.8,380.5 1092.5,382.2 1093.3,384.0 1094.0,385.6 1094.8,387.2 1095.6,388.6 1096.4,389.8 1097.3,390.9 1098.3,391.9 1099.2,392.7 1100.2,393.4 1101.2,394.0 1102.3,394.5 1103.4,395.0 1104.5,395.4 1105.7,395.7 1106.9,396.0 1108.1,396.1 1109.3,396.1 1110.5,396.1 1111.6,395.9 1112.8,395.7 1114.0,395.3 1115.1,394.9 1116.3,394.5 1117.5,394.0 1118.6,393.5 1119.8,392.9 1121.0,392.3 1122.2,391.6 1123.3,391.0 1124.5,390.4 1125.7,389.7 1126.8,389.1 1128.0,388.4 1129.2,387.7 1130.3,387.0 1131.5,386.3 1132.7,385.6 1133.8,384.9 1135.0,384.2 1136.2,383.5 1137.3,382.8 1138.5,382.2 1139.7,381.6 1140.8,381.0 1142.0,380.5 1143.2,379.9 1144.4,379.3 1145.5,378.7 1146.7,378.2 1147.9,377.6 1149.0,377.0 1150.2,376.4 1151.4,375.8 1152.5,375.2 1153.7,374.6 1154.9,374.1 1156.0,373.5 1157.2,372.9 1158.4,372.3 1159.5,371.7 1160.7,371.1 1161.9,370.6 1163.0,370.0 1164.2,369.4 1165.4,368.8 1166.6,368.2 1167.7,367.6 1168.9,367.0 1170.1,366.4 1171.2,365.9 1172.4,365.3 1173.6,364.8 1174.7,364.2 1175.9,363.7 1177.1,363.2 1178.2,362.7 1179.4,362.3 1180.5,361.8 1181.6,361.4 1182.8,360.9 1183.9,360.5 1185.1,360.0 1186.4,359.5 1188.0,358.8 1189.8,358.0 1191.6,357.2 1193.4,356.4 1194.9,355.7 1196.0,355.3" fill="none" stroke="#ff7f0e" stroke-width="3.3" stroke-linejoin="round" stroke-linecap="butt" stroke-dasharray="3.3 4.98"/>
</g>
<rect x="924.6" y="256.9" width="272.2" height="241.6" fill="none" stroke="#000" stroke-width="1.67"/>
<line x1="982.93" y1="498.5" x2="982.93" y2="506.3" stroke="#000" stroke-width="1.67"/>
<text x="982.93" y="530.4" text-anchor="middle" stroke="#000" stroke-width="0.3">−2</text>
<line x1="1060.70" y1="498.5" x2="1060.70" y2="506.3" stroke="#000" stroke-width="1.67"/>
<text x="1060.70" y="530.4" text-anchor="middle" stroke="#000" stroke-width="0.3">0</text>
<line x1="1138.47" y1="498.5" x2="1138.47" y2="506.3" stroke="#000" stroke-width="1.67"/>
<text x="1138.47" y="530.4" text-anchor="middle" stroke="#000" stroke-width="0.3">2</text>
<line x1="924.6" y1="282.30" x2="916.8000000000001" y2="282.30" stroke="#000" stroke-width="1.67"/>
<line x1="924.6" y1="337.10" x2="916.8000000000001" y2="337.10" stroke="#000" stroke-width="1.67"/>
<line x1="924.6" y1="391.90" x2="916.8000000000001" y2="391.90" stroke="#000" stroke-width="1.67"/>
<line x1="924.6" y1="446.70" x2="916.8000000000001" y2="446.70" stroke="#000" stroke-width="1.67"/>
<text x="935.1" y="287.9"  text-anchor="start" font-size="23.5px" letter-spacing="0" fill="#fff" stroke="#000" stroke-width="6.8" stroke-linejoin="round" paint-order="stroke fill">(e)</text>
<text x="1175.30" y="287.10" text-anchor="middle" letter-spacing="0.5" stroke="#000" stroke-width="0.3">SW</text>
<text x="776" y="559.0" text-anchor="middle" stroke="#000" stroke-width="0.3">transverse offset (&quot;)</text>
<text transform="translate(588.5,377.7) rotate(-90)" text-anchor="middle" stroke="#000" stroke-width="0.3">mJy km/s beam<tspan font-size="14.6px" dy="-7.9">−1</tspan></text>
</svg></body></html>
